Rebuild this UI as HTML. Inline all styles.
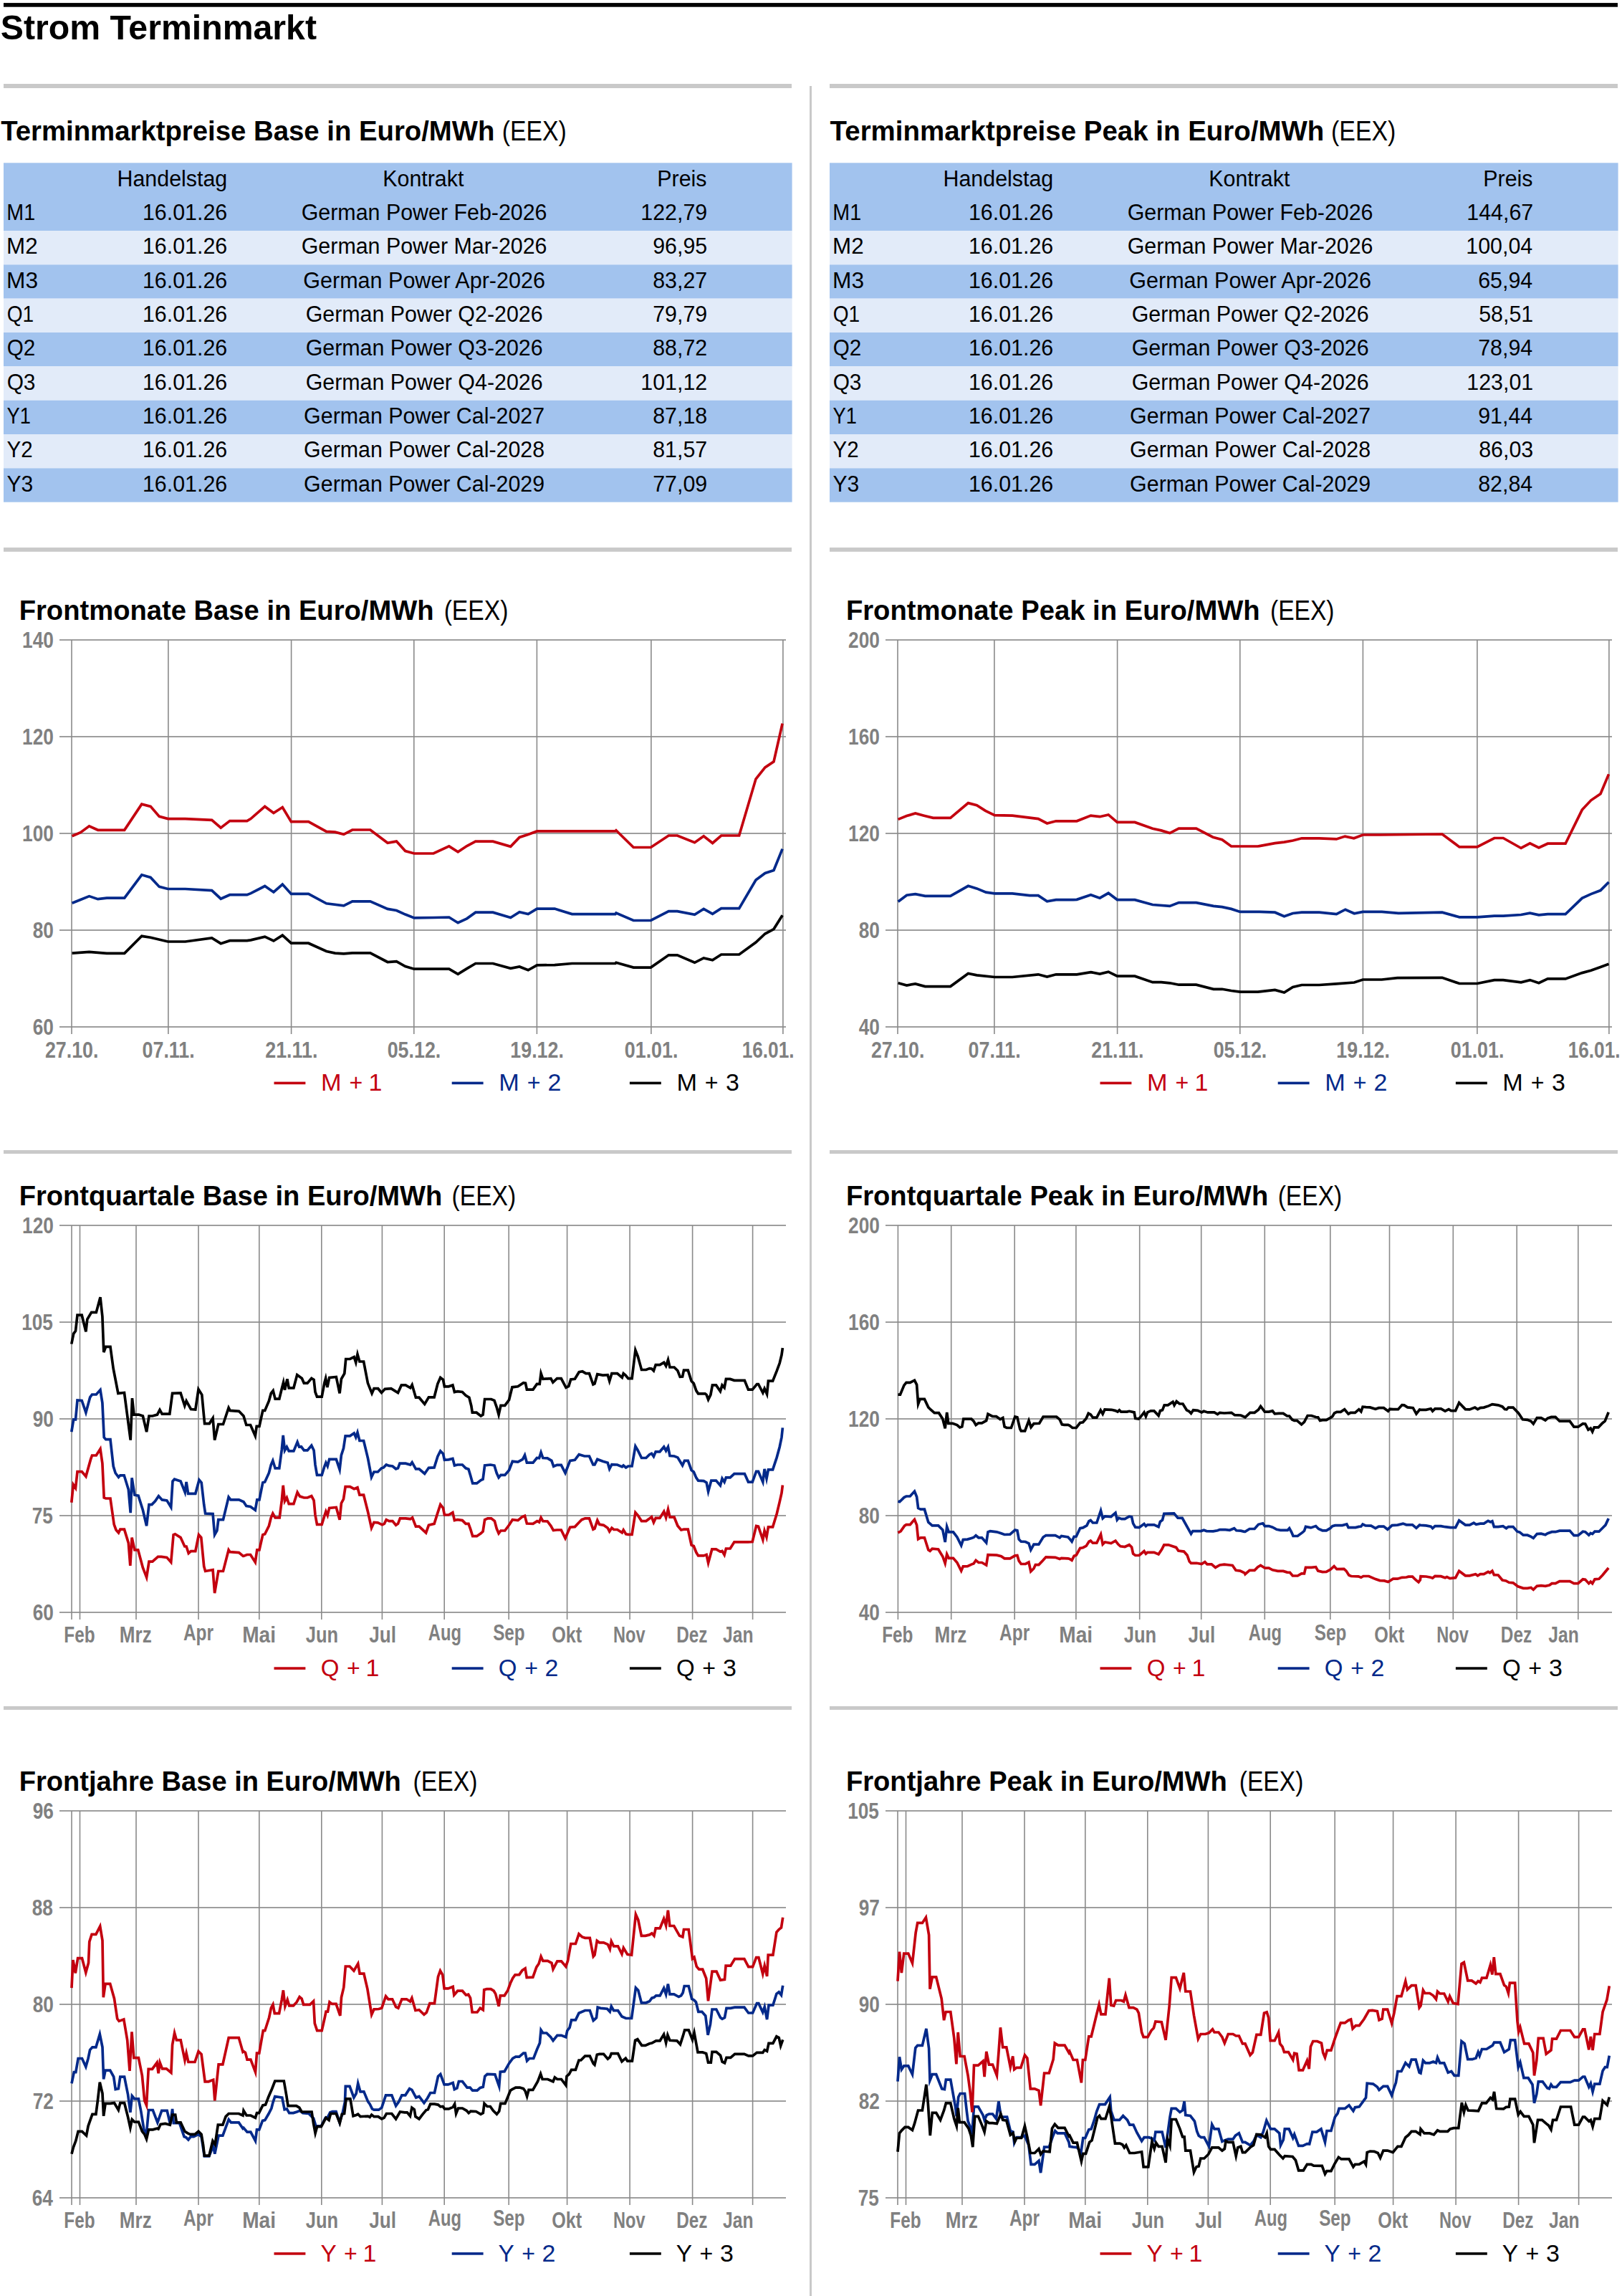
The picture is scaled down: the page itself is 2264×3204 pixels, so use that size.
<!DOCTYPE html>
<html><head><meta charset="utf-8"><title>Strom Terminmarkt</title>
<style>html,body{margin:0;padding:0;background:#fff;overflow:hidden;width:2264px;height:3204px;} svg{display:block;} text{font-family:"Liberation Sans",Arial,sans-serif;white-space:pre;}</style>
</head><body>
<svg width="2264" height="3204" viewBox="0 0 2264 3204">
<rect x="0" y="0" width="2264" height="3204" fill="#fff"/>
<rect x="5.00" y="4.10" width="2253.00" height="5.60" fill="#000"/>
<rect x="5.00" y="117.00" width="1100.00" height="6.00" fill="#c9c9c9"/>
<rect x="1158.00" y="117.00" width="1100.00" height="6.00" fill="#c9c9c9"/>
<rect x="5.00" y="764.10" width="1100.00" height="5.80" fill="#c9c9c9"/>
<rect x="1158.00" y="764.10" width="1100.00" height="5.80" fill="#c9c9c9"/>
<rect x="5.00" y="1605.00" width="1100.00" height="5.00" fill="#c9c9c9"/>
<rect x="1158.00" y="1605.00" width="1100.00" height="5.00" fill="#c9c9c9"/>
<rect x="5.00" y="2381.00" width="1100.00" height="5.00" fill="#c9c9c9"/>
<rect x="1158.00" y="2381.00" width="1100.00" height="5.00" fill="#c9c9c9"/>
<rect x="1130.00" y="120.00" width="3.00" height="3084.00" fill="#c9c9c9"/>
<rect x="5.00" y="227.30" width="1100.60" height="94.68" fill="#a2c3ee"/>
<rect x="5.00" y="321.98" width="1100.60" height="47.34" fill="#e2ebf9"/>
<rect x="5.00" y="369.32" width="1100.60" height="47.34" fill="#a2c3ee"/>
<rect x="5.00" y="416.66" width="1100.60" height="47.34" fill="#e2ebf9"/>
<rect x="5.00" y="464.00" width="1100.60" height="47.34" fill="#a2c3ee"/>
<rect x="5.00" y="511.34" width="1100.60" height="47.34" fill="#e2ebf9"/>
<rect x="5.00" y="558.68" width="1100.60" height="47.34" fill="#a2c3ee"/>
<rect x="5.00" y="606.02" width="1100.60" height="47.34" fill="#e2ebf9"/>
<rect x="5.00" y="653.36" width="1100.60" height="47.34" fill="#a2c3ee"/>
<rect x="1158.00" y="227.30" width="1100.60" height="94.68" fill="#a2c3ee"/>
<rect x="1158.00" y="321.98" width="1100.60" height="47.34" fill="#e2ebf9"/>
<rect x="1158.00" y="369.32" width="1100.60" height="47.34" fill="#a2c3ee"/>
<rect x="1158.00" y="416.66" width="1100.60" height="47.34" fill="#e2ebf9"/>
<rect x="1158.00" y="464.00" width="1100.60" height="47.34" fill="#a2c3ee"/>
<rect x="1158.00" y="511.34" width="1100.60" height="47.34" fill="#e2ebf9"/>
<rect x="1158.00" y="558.68" width="1100.60" height="47.34" fill="#a2c3ee"/>
<rect x="1158.00" y="606.02" width="1100.60" height="47.34" fill="#e2ebf9"/>
<rect x="1158.00" y="653.36" width="1100.60" height="47.34" fill="#a2c3ee"/>
<line x1="83.00" y1="893.00" x2="1097.00" y2="893.00" stroke="#7e7e7e" stroke-width="1.6"/>
<line x1="83.00" y1="1028.00" x2="1097.00" y2="1028.00" stroke="#7e7e7e" stroke-width="1.6"/>
<line x1="83.00" y1="1163.00" x2="1097.00" y2="1163.00" stroke="#7e7e7e" stroke-width="1.6"/>
<line x1="83.00" y1="1298.00" x2="1097.00" y2="1298.00" stroke="#7e7e7e" stroke-width="1.6"/>
<line x1="83.00" y1="1433.00" x2="1097.00" y2="1433.00" stroke="#7e7e7e" stroke-width="1.6"/>
<line x1="100.00" y1="893.00" x2="100.00" y2="1443.00" stroke="#8a8a8a" stroke-width="1.6"/>
<line x1="234.90" y1="893.00" x2="234.90" y2="1443.00" stroke="#8a8a8a" stroke-width="1.6"/>
<line x1="406.60" y1="893.00" x2="406.60" y2="1443.00" stroke="#8a8a8a" stroke-width="1.6"/>
<line x1="577.80" y1="893.00" x2="577.80" y2="1443.00" stroke="#8a8a8a" stroke-width="1.6"/>
<line x1="749.40" y1="893.00" x2="749.40" y2="1443.00" stroke="#8a8a8a" stroke-width="1.6"/>
<line x1="908.90" y1="893.00" x2="908.90" y2="1443.00" stroke="#8a8a8a" stroke-width="1.6"/>
<line x1="1092.90" y1="893.00" x2="1092.90" y2="1443.00" stroke="#8a8a8a" stroke-width="1.6"/>
<rect x="382.50" y="1509.60" width="43.90" height="3.60" fill="#c3000f"/>
<rect x="630.70" y="1509.60" width="43.90" height="3.60" fill="#03298a"/>
<rect x="878.90" y="1509.60" width="43.90" height="3.60" fill="#000000"/>
<line x1="1236.00" y1="893.00" x2="2250.00" y2="893.00" stroke="#7e7e7e" stroke-width="1.6"/>
<line x1="1236.00" y1="1028.00" x2="2250.00" y2="1028.00" stroke="#7e7e7e" stroke-width="1.6"/>
<line x1="1236.00" y1="1163.00" x2="2250.00" y2="1163.00" stroke="#7e7e7e" stroke-width="1.6"/>
<line x1="1236.00" y1="1298.00" x2="2250.00" y2="1298.00" stroke="#7e7e7e" stroke-width="1.6"/>
<line x1="1236.00" y1="1433.00" x2="2250.00" y2="1433.00" stroke="#7e7e7e" stroke-width="1.6"/>
<line x1="1253.00" y1="893.00" x2="1253.00" y2="1443.00" stroke="#8a8a8a" stroke-width="1.6"/>
<line x1="1387.90" y1="893.00" x2="1387.90" y2="1443.00" stroke="#8a8a8a" stroke-width="1.6"/>
<line x1="1559.60" y1="893.00" x2="1559.60" y2="1443.00" stroke="#8a8a8a" stroke-width="1.6"/>
<line x1="1730.80" y1="893.00" x2="1730.80" y2="1443.00" stroke="#8a8a8a" stroke-width="1.6"/>
<line x1="1902.40" y1="893.00" x2="1902.40" y2="1443.00" stroke="#8a8a8a" stroke-width="1.6"/>
<line x1="2061.90" y1="893.00" x2="2061.90" y2="1443.00" stroke="#8a8a8a" stroke-width="1.6"/>
<line x1="2245.90" y1="893.00" x2="2245.90" y2="1443.00" stroke="#8a8a8a" stroke-width="1.6"/>
<rect x="1535.50" y="1509.60" width="43.90" height="3.60" fill="#c3000f"/>
<rect x="1783.70" y="1509.60" width="43.90" height="3.60" fill="#03298a"/>
<rect x="2031.90" y="1509.60" width="43.90" height="3.60" fill="#000000"/>
<line x1="83.00" y1="1710.00" x2="1097.00" y2="1710.00" stroke="#7e7e7e" stroke-width="1.6"/>
<line x1="83.00" y1="1845.00" x2="1097.00" y2="1845.00" stroke="#7e7e7e" stroke-width="1.6"/>
<line x1="83.00" y1="1980.00" x2="1097.00" y2="1980.00" stroke="#7e7e7e" stroke-width="1.6"/>
<line x1="83.00" y1="2115.00" x2="1097.00" y2="2115.00" stroke="#7e7e7e" stroke-width="1.6"/>
<line x1="83.00" y1="2250.00" x2="1097.00" y2="2250.00" stroke="#7e7e7e" stroke-width="1.6"/>
<line x1="100.00" y1="1710.00" x2="100.00" y2="2260.00" stroke="#8a8a8a" stroke-width="1.6"/>
<line x1="111.50" y1="1710.00" x2="111.50" y2="2260.00" stroke="#8a8a8a" stroke-width="1.6"/>
<line x1="190.00" y1="1710.00" x2="190.00" y2="2260.00" stroke="#8a8a8a" stroke-width="1.6"/>
<line x1="277.00" y1="1710.00" x2="277.00" y2="2260.00" stroke="#8a8a8a" stroke-width="1.6"/>
<line x1="361.80" y1="1710.00" x2="361.80" y2="2260.00" stroke="#8a8a8a" stroke-width="1.6"/>
<line x1="448.80" y1="1710.00" x2="448.80" y2="2260.00" stroke="#8a8a8a" stroke-width="1.6"/>
<line x1="533.40" y1="1710.00" x2="533.40" y2="2260.00" stroke="#8a8a8a" stroke-width="1.6"/>
<line x1="620.20" y1="1710.00" x2="620.20" y2="2260.00" stroke="#8a8a8a" stroke-width="1.6"/>
<line x1="710.20" y1="1710.00" x2="710.20" y2="2260.00" stroke="#8a8a8a" stroke-width="1.6"/>
<line x1="791.60" y1="1710.00" x2="791.60" y2="2260.00" stroke="#8a8a8a" stroke-width="1.6"/>
<line x1="879.10" y1="1710.00" x2="879.10" y2="2260.00" stroke="#8a8a8a" stroke-width="1.6"/>
<line x1="966.60" y1="1710.00" x2="966.60" y2="2260.00" stroke="#8a8a8a" stroke-width="1.6"/>
<line x1="1050.60" y1="1710.00" x2="1050.60" y2="2260.00" stroke="#8a8a8a" stroke-width="1.6"/>
<rect x="382.50" y="2326.30" width="43.90" height="3.60" fill="#c3000f"/>
<rect x="630.70" y="2326.30" width="43.90" height="3.60" fill="#03298a"/>
<rect x="878.90" y="2326.30" width="43.90" height="3.60" fill="#000000"/>
<line x1="1236.00" y1="1710.00" x2="2250.00" y2="1710.00" stroke="#7e7e7e" stroke-width="1.6"/>
<line x1="1236.00" y1="1845.00" x2="2250.00" y2="1845.00" stroke="#7e7e7e" stroke-width="1.6"/>
<line x1="1236.00" y1="1980.00" x2="2250.00" y2="1980.00" stroke="#7e7e7e" stroke-width="1.6"/>
<line x1="1236.00" y1="2115.00" x2="2250.00" y2="2115.00" stroke="#7e7e7e" stroke-width="1.6"/>
<line x1="1236.00" y1="2250.00" x2="2250.00" y2="2250.00" stroke="#7e7e7e" stroke-width="1.6"/>
<line x1="1253.40" y1="1710.00" x2="1253.40" y2="2260.00" stroke="#8a8a8a" stroke-width="1.6"/>
<line x1="1327.70" y1="1710.00" x2="1327.70" y2="2260.00" stroke="#8a8a8a" stroke-width="1.6"/>
<line x1="1416.20" y1="1710.00" x2="1416.20" y2="2260.00" stroke="#8a8a8a" stroke-width="1.6"/>
<line x1="1501.90" y1="1710.00" x2="1501.90" y2="2260.00" stroke="#8a8a8a" stroke-width="1.6"/>
<line x1="1590.70" y1="1710.00" x2="1590.70" y2="2260.00" stroke="#8a8a8a" stroke-width="1.6"/>
<line x1="1676.70" y1="1710.00" x2="1676.70" y2="2260.00" stroke="#8a8a8a" stroke-width="1.6"/>
<line x1="1765.30" y1="1710.00" x2="1765.30" y2="2260.00" stroke="#8a8a8a" stroke-width="1.6"/>
<line x1="1856.80" y1="1710.00" x2="1856.80" y2="2260.00" stroke="#8a8a8a" stroke-width="1.6"/>
<line x1="1939.50" y1="1710.00" x2="1939.50" y2="2260.00" stroke="#8a8a8a" stroke-width="1.6"/>
<line x1="2028.30" y1="1710.00" x2="2028.30" y2="2260.00" stroke="#8a8a8a" stroke-width="1.6"/>
<line x1="2117.20" y1="1710.00" x2="2117.20" y2="2260.00" stroke="#8a8a8a" stroke-width="1.6"/>
<line x1="2202.80" y1="1710.00" x2="2202.80" y2="2260.00" stroke="#8a8a8a" stroke-width="1.6"/>
<rect x="1535.50" y="2326.30" width="43.90" height="3.60" fill="#c3000f"/>
<rect x="1783.70" y="2326.30" width="43.90" height="3.60" fill="#03298a"/>
<rect x="2031.90" y="2326.30" width="43.90" height="3.60" fill="#000000"/>
<line x1="83.00" y1="2527.00" x2="1097.00" y2="2527.00" stroke="#7e7e7e" stroke-width="1.6"/>
<line x1="83.00" y1="2662.00" x2="1097.00" y2="2662.00" stroke="#7e7e7e" stroke-width="1.6"/>
<line x1="83.00" y1="2797.00" x2="1097.00" y2="2797.00" stroke="#7e7e7e" stroke-width="1.6"/>
<line x1="83.00" y1="2932.00" x2="1097.00" y2="2932.00" stroke="#7e7e7e" stroke-width="1.6"/>
<line x1="83.00" y1="3067.00" x2="1097.00" y2="3067.00" stroke="#7e7e7e" stroke-width="1.6"/>
<line x1="100.00" y1="2527.00" x2="100.00" y2="3077.00" stroke="#8a8a8a" stroke-width="1.6"/>
<line x1="111.50" y1="2527.00" x2="111.50" y2="3077.00" stroke="#8a8a8a" stroke-width="1.6"/>
<line x1="190.00" y1="2527.00" x2="190.00" y2="3077.00" stroke="#8a8a8a" stroke-width="1.6"/>
<line x1="277.00" y1="2527.00" x2="277.00" y2="3077.00" stroke="#8a8a8a" stroke-width="1.6"/>
<line x1="361.80" y1="2527.00" x2="361.80" y2="3077.00" stroke="#8a8a8a" stroke-width="1.6"/>
<line x1="448.80" y1="2527.00" x2="448.80" y2="3077.00" stroke="#8a8a8a" stroke-width="1.6"/>
<line x1="533.40" y1="2527.00" x2="533.40" y2="3077.00" stroke="#8a8a8a" stroke-width="1.6"/>
<line x1="620.20" y1="2527.00" x2="620.20" y2="3077.00" stroke="#8a8a8a" stroke-width="1.6"/>
<line x1="710.20" y1="2527.00" x2="710.20" y2="3077.00" stroke="#8a8a8a" stroke-width="1.6"/>
<line x1="791.60" y1="2527.00" x2="791.60" y2="3077.00" stroke="#8a8a8a" stroke-width="1.6"/>
<line x1="879.10" y1="2527.00" x2="879.10" y2="3077.00" stroke="#8a8a8a" stroke-width="1.6"/>
<line x1="966.60" y1="2527.00" x2="966.60" y2="3077.00" stroke="#8a8a8a" stroke-width="1.6"/>
<line x1="1050.60" y1="2527.00" x2="1050.60" y2="3077.00" stroke="#8a8a8a" stroke-width="1.6"/>
<rect x="382.50" y="3143.10" width="43.90" height="3.60" fill="#c3000f"/>
<rect x="630.70" y="3143.10" width="43.90" height="3.60" fill="#03298a"/>
<rect x="878.90" y="3143.10" width="43.90" height="3.60" fill="#000000"/>
<line x1="1236.00" y1="2527.00" x2="2250.00" y2="2527.00" stroke="#7e7e7e" stroke-width="1.6"/>
<line x1="1236.00" y1="2662.00" x2="2250.00" y2="2662.00" stroke="#7e7e7e" stroke-width="1.6"/>
<line x1="1236.00" y1="2797.00" x2="2250.00" y2="2797.00" stroke="#7e7e7e" stroke-width="1.6"/>
<line x1="1236.00" y1="2932.00" x2="2250.00" y2="2932.00" stroke="#7e7e7e" stroke-width="1.6"/>
<line x1="1236.00" y1="3067.00" x2="2250.00" y2="3067.00" stroke="#7e7e7e" stroke-width="1.6"/>
<line x1="1253.00" y1="2527.00" x2="1253.00" y2="3077.00" stroke="#8a8a8a" stroke-width="1.6"/>
<line x1="1264.50" y1="2527.00" x2="1264.50" y2="3077.00" stroke="#8a8a8a" stroke-width="1.6"/>
<line x1="1343.00" y1="2527.00" x2="1343.00" y2="3077.00" stroke="#8a8a8a" stroke-width="1.6"/>
<line x1="1430.00" y1="2527.00" x2="1430.00" y2="3077.00" stroke="#8a8a8a" stroke-width="1.6"/>
<line x1="1514.80" y1="2527.00" x2="1514.80" y2="3077.00" stroke="#8a8a8a" stroke-width="1.6"/>
<line x1="1601.80" y1="2527.00" x2="1601.80" y2="3077.00" stroke="#8a8a8a" stroke-width="1.6"/>
<line x1="1686.40" y1="2527.00" x2="1686.40" y2="3077.00" stroke="#8a8a8a" stroke-width="1.6"/>
<line x1="1773.20" y1="2527.00" x2="1773.20" y2="3077.00" stroke="#8a8a8a" stroke-width="1.6"/>
<line x1="1863.20" y1="2527.00" x2="1863.20" y2="3077.00" stroke="#8a8a8a" stroke-width="1.6"/>
<line x1="1944.60" y1="2527.00" x2="1944.60" y2="3077.00" stroke="#8a8a8a" stroke-width="1.6"/>
<line x1="2032.10" y1="2527.00" x2="2032.10" y2="3077.00" stroke="#8a8a8a" stroke-width="1.6"/>
<line x1="2119.60" y1="2527.00" x2="2119.60" y2="3077.00" stroke="#8a8a8a" stroke-width="1.6"/>
<line x1="2203.60" y1="2527.00" x2="2203.60" y2="3077.00" stroke="#8a8a8a" stroke-width="1.6"/>
<rect x="1535.50" y="3143.10" width="43.90" height="3.60" fill="#c3000f"/>
<rect x="1783.70" y="3143.10" width="43.90" height="3.60" fill="#03298a"/>
<rect x="2031.90" y="3143.10" width="43.90" height="3.60" fill="#000000"/>
<polyline points="100.6,1260.3 112.4,1255.5 124.5,1250.6 136.6,1254.7 149.0,1253.1 173.7,1253.1 197.8,1220.8 210.2,1224.5 222.3,1237.4 234.4,1240.5 258.6,1240.5 295.7,1242.6 308.2,1254.2 320.7,1248.7 344.8,1248.7 350.0,1246.6 369.7,1236.5 381.9,1245.0 394.3,1234.0 406.4,1247.4 430.6,1247.4 455.6,1260.8 479.8,1263.9 491.8,1257.9 516.8,1257.9 541.0,1268.4 553.4,1270.5 565.7,1276.1 578.1,1280.9 605.0,1280.5 626.8,1280.0 639.2,1287.7 651.7,1281.8 663.8,1273.2 688.0,1273.2 712.7,1280.5 725.1,1272.7 737.2,1275.6 749.6,1268.1 774.2,1268.1 798.4,1275.6 858.9,1275.6 860.0,1274.0 884.2,1284.5 908.4,1284.5 933.3,1271.6 945.4,1271.6 969.6,1276.4 982.2,1268.4 994.6,1275.3 1006.7,1267.6 1031.7,1267.6 1055.0,1228.1 1067.9,1218.4 1080.0,1214.4 1092.1,1184.6" fill="none" stroke="#03298a" stroke-width="3.7" stroke-linejoin="miter" stroke-miterlimit="5"/>
<polyline points="100.6,1330.1 124.5,1328.3 149.0,1330.4 173.7,1330.4 197.8,1306.3 210.2,1308.2 234.4,1314.0 258.6,1314.0 295.7,1309.0 308.2,1316.7 320.7,1312.7 344.8,1312.7 350.0,1311.9 369.7,1307.1 381.9,1313.0 394.3,1305.1 406.4,1316.2 430.6,1316.2 455.6,1327.5 467.7,1330.1 479.8,1330.8 491.8,1329.9 516.8,1329.9 541.0,1342.5 553.4,1341.7 565.7,1348.5 578.1,1352.2 605.0,1352.2 626.8,1352.2 639.2,1359.4 651.7,1351.7 663.8,1344.5 688.0,1344.5 712.7,1351.4 725.1,1349.0 737.2,1353.8 749.6,1346.9 774.2,1346.6 798.4,1344.5 858.9,1344.5 860.0,1343.3 884.2,1350.1 908.4,1350.1 933.3,1332.8 945.4,1332.8 969.6,1343.3 982.2,1336.9 994.6,1339.8 1006.7,1332.0 1031.7,1332.0 1055.0,1315.1 1067.9,1303.0 1080.0,1296.6 1092.1,1277.2" fill="none" stroke="#000000" stroke-width="3.7" stroke-linejoin="miter" stroke-miterlimit="5"/>
<polyline points="100.6,1166.8 112.4,1161.7 124.5,1152.8 136.6,1158.3 173.7,1158.3 197.8,1122.2 210.2,1125.4 222.3,1139.4 234.4,1142.6 258.6,1142.6 295.7,1144.3 308.2,1155.1 320.7,1145.6 344.8,1145.6 350.0,1142.6 369.7,1125.4 381.9,1134.6 394.3,1126.5 406.4,1146.7 430.6,1146.7 455.6,1160.4 467.7,1161.2 479.8,1164.4 491.8,1158.0 516.8,1158.0 541.0,1176.2 553.4,1174.1 565.7,1187.5 578.1,1191.0 602.3,1191.0 605.0,1191.0 626.8,1180.9 639.2,1188.9 651.7,1180.5 663.8,1174.1 688.0,1174.1 712.7,1181.3 725.1,1168.4 737.2,1164.4 749.6,1159.9 774.2,1159.9 858.9,1159.9 860.0,1158.8 884.2,1182.5 908.4,1182.5 933.3,1166.0 945.4,1166.0 969.6,1175.7 982.2,1166.8 994.6,1176.5 1006.7,1166.0 1031.7,1166.0 1055.0,1087.0 1067.9,1070.9 1080.0,1062.9 1092.1,1009.7" fill="none" stroke="#c3000f" stroke-width="3.7" stroke-linejoin="miter" stroke-miterlimit="5"/>
<polyline points="1253.6,1258.3 1265.6,1249.2 1277.7,1247.6 1291.3,1250.3 1326.6,1250.3 1351.4,1236.3 1363.4,1239.9 1376.2,1245.2 1388.3,1246.8 1413.1,1246.8 1437.2,1249.6 1449.2,1249.6 1461.5,1257.7 1474.0,1255.6 1498.1,1255.6 1503.0,1255.3 1522.6,1248.8 1535.1,1253.2 1547.1,1246.3 1559.4,1255.6 1584.0,1255.6 1608.8,1262.5 1632.8,1264.4 1645.4,1259.6 1669.7,1259.6 1693.8,1264.4 1705.8,1265.7 1718.6,1268.4 1731.0,1272.4 1758.0,1272.4 1779.6,1273.2 1792.5,1278.8 1804.5,1274.5 1817.0,1273.2 1841.4,1273.2 1865.4,1275.6 1877.9,1269.2 1890.3,1274.8 1902.3,1272.4 1928.7,1272.4 1952.0,1274.3 2013.0,1273.2 2037.0,1279.8 2061.8,1279.8 2085.8,1278.2 2098.2,1278.2 2123.1,1276.5 2135.5,1274.1 2147.9,1276.9 2160.3,1275.7 2185.1,1275.7 2208.3,1253.4 2220.7,1247.6 2234.0,1242.6 2245.5,1231.0" fill="none" stroke="#03298a" stroke-width="3.7" stroke-linejoin="miter" stroke-miterlimit="5"/>
<polyline points="1253.6,1371.8 1265.6,1375.0 1277.7,1372.9 1291.3,1376.6 1326.6,1376.6 1351.4,1358.5 1363.4,1360.9 1388.3,1363.5 1413.1,1363.5 1449.2,1359.8 1461.5,1363.0 1474.0,1359.8 1498.1,1359.8 1503.0,1359.8 1522.6,1356.6 1535.1,1359.0 1547.1,1356.2 1559.4,1362.2 1584.0,1362.2 1608.8,1370.7 1620.8,1370.7 1632.8,1371.8 1645.4,1374.2 1669.7,1374.2 1693.8,1380.3 1705.8,1380.3 1718.6,1382.5 1731.0,1384.1 1755.5,1384.1 1758.0,1383.8 1779.6,1381.4 1792.5,1385.1 1804.5,1377.4 1817.0,1374.5 1841.4,1374.5 1865.4,1372.9 1890.3,1371.0 1902.3,1367.0 1928.7,1367.0 1950.4,1364.6 2013.0,1364.3 2037.0,1372.5 2061.8,1372.5 2085.8,1367.6 2098.2,1367.6 2123.1,1370.9 2135.5,1367.6 2147.9,1371.7 2160.3,1365.9 2185.1,1365.9 2208.3,1357.6 2220.7,1354.3 2234.0,1349.4 2245.5,1345.2" fill="none" stroke="#000000" stroke-width="3.7" stroke-linejoin="miter" stroke-miterlimit="5"/>
<polyline points="1253.6,1143.4 1265.6,1138.6 1277.7,1135.0 1289.7,1138.2 1302.5,1141.4 1326.6,1141.4 1351.4,1120.6 1363.4,1123.6 1375.4,1131.3 1388.3,1137.7 1413.1,1138.1 1449.2,1142.6 1461.5,1149.0 1474.0,1145.8 1498.1,1145.8 1503.0,1145.8 1522.6,1138.1 1535.1,1139.7 1547.1,1136.9 1559.4,1147.4 1584.0,1147.4 1608.8,1156.2 1620.8,1158.9 1632.8,1162.6 1645.4,1156.2 1669.7,1156.2 1693.0,1168.2 1705.8,1171.7 1718.6,1181.0 1755.5,1181.0 1758.0,1180.6 1779.6,1176.7 1792.5,1175.1 1804.5,1173.0 1817.0,1169.8 1841.4,1169.8 1865.4,1170.9 1877.4,1167.1 1889.8,1169.8 1902.3,1165.0 1926.3,1165.0 2013.0,1164.0 2037.0,1181.9 2061.8,1181.9 2085.8,1169.5 2098.2,1169.5 2123.1,1183.5 2135.5,1176.9 2147.9,1183.0 2160.3,1177.2 2185.1,1177.2 2208.3,1130.1 2220.7,1116.8 2234.0,1107.7 2245.5,1080.4" fill="none" stroke="#c3000f" stroke-width="3.7" stroke-linejoin="miter" stroke-miterlimit="5"/>
<polyline points="99.8,1998.1 102.7,1980.8 105.5,1980.8 108.0,1954.0 114.2,1954.4 119.9,1971.2 125.7,1949.8 128.5,1946.0 134.3,1946.0 140.0,1939.6 142.9,1957.8 145.2,2005.7 147.7,2008.6 154.0,2008.6 158.2,2046.0 161.1,2055.5 165.5,2061.3 167.8,2058.8 173.2,2058.8 179.3,2078.5 182.2,2111.1 184.1,2062.2 187.9,2086.2 193.1,2087.1 199.4,2107.3 204.6,2129.3 208.0,2099.6 211.9,2099.6 216.6,2094.8 221.4,2087.7 226.2,2092.9 232.9,2093.9 238.7,2103.4 241.0,2067.0 243.5,2064.2 252.1,2067.0 258.2,2082.4 260.1,2068.0 262.6,2084.3 272.8,2084.3 278.0,2065.1 281.2,2068.9 284.7,2099.6 286.6,2112.0 297.1,2112.6 299.6,2141.7 302.9,2136.0 304.8,2120.7 311.5,2120.7 319.1,2089.1 322.0,2092.9 333.5,2092.9 340.0,2095.8 343.8,2101.5 349.6,2102.5 356.3,2107.3 358.8,2092.9 362.0,2092.9 366.8,2068.9 369.7,2068.0 375.4,2055.5 378.3,2044.0 380.8,2038.3 384.1,2048.8 389.8,2048.8 393.3,2023.0 395.2,2002.9 397.5,2023.9 400.3,2019.1 403.2,2024.9 409.9,2024.9 415.1,2012.4 417.6,2019.1 420.5,2018.8 424.3,2023.9 429.1,2023.9 434.8,2017.2 438.1,2023.9 440.0,2044.0 442.5,2058.4 449.2,2058.4 453.0,2046.0 454.9,2041.2 457.2,2046.0 459.7,2036.4 469.3,2036.4 474.1,2050.7 476.4,2030.6 479.5,2021.1 482.1,2003.8 488.5,2003.8 494.2,2000.0 496.7,2005.7 499.0,1999.0 501.9,2010.5 507.6,2010.5 513.4,2034.5 518.5,2061.3 522.0,2054.0 527.4,2054.0 532.5,2048.8 535.4,2047.9 539.2,2044.0 543.1,2045.4 547.9,2046.0 552.6,2049.8 555.5,2048.8 558.0,2042.1 566.1,2042.1 572.8,2044.0 575.2,2040.6 580.4,2049.8 585.0,2049.8 592.7,2056.5 598.4,2048.3 606.1,2047.9 610.9,2032.5 614.7,2024.9 618.5,2028.7 620.4,2037.3 626.2,2036.8 631.9,2035.4 634.4,2045.0 638.6,2044.0 645.3,2044.0 650.1,2048.8 654.0,2050.2 656.8,2059.4 659.7,2069.9 665.5,2069.9 671.2,2065.5 674.1,2064.2 676.6,2045.0 684.6,2044.0 690.0,2045.0 693.2,2055.5 696.1,2061.9 699.0,2058.4 704.7,2058.4 710.5,2051.7 715.3,2039.3 722.9,2040.2 729.6,2036.4 732.5,2030.6 735.4,2041.2 744.0,2041.2 749.4,2034.5 752.6,2034.8 755.1,2026.8 757.8,2034.5 764.1,2034.8 769.9,2038.3 772.7,2046.3 777.5,2044.4 783.3,2044.4 789.0,2055.5 795.7,2038.3 802.4,2037.3 808.2,2029.7 815.8,2032.0 822.5,2032.0 827.9,2044.0 830.0,2044.0 833.8,2036.4 841.5,2039.3 848.2,2041.2 850.7,2049.8 853.9,2043.7 861.6,2044.0 868.3,2046.9 870.2,2045.0 873.7,2047.9 876.9,2046.0 882.1,2046.0 886.9,2018.2 890.3,2023.9 895.5,2034.5 901.8,2034.5 906.6,2029.7 909.5,2028.3 912.4,2032.5 915.2,2025.8 921.0,2025.8 926.7,2019.1 929.6,2024.5 932.5,2019.1 935.0,2031.6 941.1,2032.0 945.9,2033.9 949.2,2039.3 952.6,2045.0 955.5,2038.3 960.3,2038.3 965.1,2051.7 968.3,2054.0 971.8,2062.2 974.6,2066.1 982.3,2066.6 986.1,2068.9 988.6,2081.4 992.8,2066.1 999.5,2066.1 1005.4,2072.9 1008.0,2063.3 1011.1,2068.1 1013.4,2061.8 1019.2,2061.8 1024.9,2056.6 1039.3,2056.6 1044.5,2068.1 1050.2,2068.1 1055.6,2053.3 1058.5,2053.3 1064.8,2068.1 1067.1,2049.9 1070.0,2063.3 1072.4,2050.8 1078.6,2050.8 1084.3,2033.6 1088.2,2019.2 1091.0,2005.8 1092.4,1992.4" fill="none" stroke="#03298a" stroke-width="3.7" stroke-linejoin="miter" stroke-miterlimit="5"/>
<polyline points="99.8,1875.5 102.7,1861.1 105.5,1857.3 108.0,1835.2 114.2,1835.2 119.9,1858.2 121.8,1841.0 127.6,1831.4 134.3,1831.4 140.0,1810.3 142.9,1837.1 144.8,1887.0 147.7,1879.3 154.0,1879.3 158.2,1909.9 164.9,1944.4 173.5,1943.5 182.2,2009.6 184.5,1951.1 187.0,1974.1 193.7,1974.1 199.4,1976.0 204.6,1998.1 208.0,1976.0 212.8,1976.0 219.5,1974.1 223.0,1967.4 226.2,1973.2 236.8,1973.2 240.6,1944.4 252.1,1944.0 257.8,1961.7 260.1,1955.0 266.5,1966.5 272.8,1967.0 277.0,1938.7 281.8,1946.3 285.6,1986.6 292.3,1986.6 297.1,1978.9 299.6,2009.6 304.8,1987.5 311.5,1987.5 319.1,1964.5 321.1,1968.4 333.5,1969.3 340.0,1976.0 343.8,1988.5 349.6,1988.5 356.3,2003.8 358.2,1990.4 362.0,1990.4 366.8,1968.4 369.7,1968.4 375.4,1955.0 378.3,1944.4 381.2,1940.6 384.1,1952.1 389.8,1952.1 393.6,1936.8 395.6,1929.1 397.5,1939.6 400.9,1924.3 403.2,1936.8 409.9,1936.8 414.7,1918.6 421.4,1923.4 424.3,1930.1 429.1,1930.1 434.8,1923.4 438.1,1925.3 440.0,1942.5 442.5,1949.2 449.2,1949.2 453.0,1929.1 454.6,1923.4 456.9,1935.8 459.7,1922.4 469.3,1921.4 474.1,1944.4 476.4,1924.3 480.8,1916.6 482.7,1896.5 488.5,1896.5 494.2,1893.7 496.7,1901.3 499.0,1889.8 501.9,1900.0 507.6,1900.0 513.4,1930.1 519.1,1944.4 522.0,1937.7 527.7,1937.7 532.5,1943.5 537.3,1938.3 545.9,1937.7 550.7,1940.6 555.5,1943.5 560.3,1932.9 566.1,1932.9 572.8,1936.8 575.2,1932.5 580.4,1950.2 585.0,1950.2 592.7,1959.4 598.4,1949.8 606.1,1949.8 610.9,1931.0 614.7,1922.4 618.5,1925.3 620.4,1934.8 626.2,1934.8 631.9,1932.9 634.4,1942.5 638.6,1941.6 645.3,1942.5 650.1,1947.3 654.9,1950.2 657.8,1961.7 659.3,1971.2 665.1,1971.2 671.2,1976.0 674.1,1974.1 676.6,1952.5 685.6,1952.5 690.0,1954.4 693.2,1963.6 696.1,1974.1 699.0,1961.3 704.7,1961.3 710.5,1953.6 714.9,1935.8 722.9,1934.8 730.6,1929.7 733.5,1930.1 735.4,1939.1 744.0,1939.1 749.4,1931.4 753.2,1931.4 755.1,1916.6 757.8,1924.3 768.9,1923.7 771.8,1929.1 777.5,1923.7 783.3,1923.7 790.0,1936.4 793.8,1934.5 796.7,1924.9 802.4,1924.3 808.2,1914.7 813.0,1913.8 817.8,1916.6 822.5,1916.6 827.9,1932.0 830.0,1931.0 833.8,1917.6 841.5,1919.1 848.2,1918.6 850.7,1927.2 853.9,1916.6 861.6,1916.6 868.3,1922.4 870.2,1916.6 873.1,1919.1 876.9,1923.7 882.1,1923.7 886.9,1884.1 890.3,1892.7 895.5,1911.5 901.8,1911.5 906.6,1909.6 909.5,1909.9 912.4,1912.8 915.2,1904.6 921.0,1904.6 926.7,1901.3 929.6,1906.1 932.5,1897.5 935.0,1908.0 941.1,1908.0 945.9,1912.8 949.2,1921.4 952.6,1921.1 954.5,1912.2 960.3,1912.2 965.1,1927.2 968.3,1930.6 971.8,1940.6 974.6,1944.8 984.2,1944.8 986.1,1946.3 988.6,1953.0 991.9,1946.3 994.4,1932.9 999.5,1932.9 1005.4,1941.6 1008.0,1933.0 1011.1,1936.4 1013.4,1924.4 1019.2,1924.4 1024.9,1926.3 1039.3,1926.3 1044.5,1939.1 1050.2,1939.1 1056.5,1931.5 1058.5,1931.5 1064.8,1943.5 1067.1,1937.8 1070.5,1945.4 1072.4,1927.2 1078.6,1927.2 1084.3,1912.9 1088.2,1902.3 1091.0,1890.8 1092.4,1880.9" fill="none" stroke="#000000" stroke-width="3.7" stroke-linejoin="miter" stroke-miterlimit="5"/>
<polyline points="99.8,2096.7 102.3,2071.8 105.5,2076.6 108.0,2053.6 114.2,2053.6 119.9,2060.3 126.6,2036.4 128.5,2031.0 134.3,2031.0 140.0,2022.0 142.9,2042.1 145.2,2090.0 147.7,2091.0 154.0,2091.0 159.2,2127.4 162.0,2135.0 165.5,2138.9 167.8,2134.1 173.5,2134.1 179.3,2153.2 181.8,2184.8 184.1,2145.6 187.9,2162.8 192.7,2162.8 199.4,2187.7 204.6,2201.1 208.0,2179.1 212.8,2179.1 220.5,2172.4 225.3,2172.4 232.9,2173.4 238.7,2180.1 242.1,2141.7 244.4,2140.8 252.1,2145.6 257.8,2158.0 260.1,2158.0 263.2,2167.6 266.5,2164.7 272.8,2164.7 277.4,2141.7 280.8,2145.6 284.7,2185.8 286.6,2192.5 297.1,2190.6 299.6,2223.2 304.8,2192.5 311.5,2192.5 319.1,2162.8 321.1,2165.7 333.5,2166.6 339.3,2171.4 340.0,2171.4 344.8,2169.5 349.6,2169.5 356.3,2180.1 358.8,2162.8 362.0,2162.8 366.8,2141.7 369.7,2140.8 375.4,2129.3 378.3,2117.8 380.8,2112.0 384.1,2117.8 390.2,2117.8 393.3,2093.9 395.2,2072.8 397.5,2094.8 400.3,2090.0 403.2,2098.6 409.9,2098.6 415.1,2082.4 418.5,2088.1 424.3,2090.0 429.1,2090.0 434.8,2087.7 438.1,2093.9 440.0,2114.0 442.5,2127.4 449.2,2127.4 453.0,2114.9 454.9,2109.2 457.2,2114.5 459.7,2104.4 469.3,2103.4 474.1,2120.7 476.4,2097.7 479.5,2091.9 482.1,2074.7 488.5,2074.7 494.2,2077.6 499.0,2075.7 501.9,2086.2 507.6,2086.2 513.4,2109.2 518.5,2132.2 522.0,2124.5 527.4,2124.9 533.5,2127.8 536.4,2126.4 539.2,2120.7 543.1,2122.6 547.9,2122.6 552.6,2128.3 555.5,2126.4 558.4,2118.8 566.1,2118.8 572.8,2119.7 575.6,2117.8 580.4,2130.2 585.0,2130.2 594.6,2138.9 598.4,2128.3 606.1,2126.4 610.9,2111.1 614.7,2099.6 618.5,2104.4 620.4,2114.0 626.2,2114.0 631.9,2110.7 634.4,2121.6 638.6,2120.7 645.3,2121.6 650.1,2126.4 654.0,2126.4 656.8,2134.1 659.7,2143.7 665.5,2143.7 671.2,2139.8 674.1,2137.0 676.6,2120.7 680.8,2118.8 685.6,2118.8 690.4,2122.6 693.2,2133.1 696.1,2139.8 699.0,2136.0 704.7,2136.0 710.5,2128.3 715.3,2120.7 722.9,2121.6 728.7,2116.8 732.5,2115.3 735.4,2126.0 744.0,2126.4 749.8,2122.6 752.6,2124.1 755.1,2117.8 757.8,2122.6 764.1,2123.0 768.9,2129.3 772.4,2135.6 777.5,2135.0 783.3,2135.0 789.0,2146.5 795.7,2131.2 802.4,2130.6 808.2,2124.5 812.0,2120.7 816.8,2118.8 822.5,2118.8 827.9,2134.1 830.0,2133.1 833.8,2121.6 836.7,2127.4 842.5,2128.3 848.2,2132.2 850.7,2137.0 853.9,2132.2 856.8,2134.5 861.6,2134.5 868.3,2138.9 870.2,2135.0 873.7,2140.8 876.9,2141.4 882.1,2141.4 886.9,2110.7 890.3,2114.5 895.5,2122.6 901.8,2122.6 906.6,2119.1 909.5,2116.8 912.4,2124.5 915.2,2118.4 921.0,2118.4 926.7,2109.2 929.6,2117.8 932.5,2106.3 935.0,2117.2 941.1,2117.2 945.9,2129.3 950.7,2135.0 954.5,2134.1 960.3,2134.1 965.1,2156.1 968.3,2157.5 971.8,2166.3 974.6,2170.9 982.3,2170.9 986.1,2169.5 988.6,2181.0 993.8,2161.9 999.5,2161.9 1005.4,2165.3 1008.0,2164.5 1011.1,2169.7 1013.4,2161.0 1019.2,2161.0 1024.9,2151.8 1044.1,2151.8 1050.2,2151.5 1055.6,2129.4 1058.5,2130.0 1064.8,2148.6 1067.1,2136.1 1070.0,2144.8 1072.4,2130.8 1078.6,2130.8 1084.3,2112.2 1088.2,2095.9 1091.0,2083.4 1092.4,2072.5" fill="none" stroke="#c3000f" stroke-width="3.7" stroke-linejoin="miter" stroke-miterlimit="5"/>
<polyline points="1253.4,2095.0 1255.7,2095.7 1261.9,2089.6 1265.0,2088.0 1270.3,2088.0 1276.5,2081.1 1279.6,2088.8 1281.6,2104.5 1285.0,2106.1 1290.4,2106.1 1295.8,2124.2 1301.2,2128.9 1309.7,2128.9 1315.8,2135.0 1319.2,2152.0 1321.7,2130.4 1324.3,2137.8 1330.5,2137.8 1335.9,2145.0 1341.7,2156.6 1344.3,2148.6 1350.5,2148.1 1355.9,2146.6 1359.0,2145.5 1362.1,2142.7 1365.9,2145.8 1370.5,2145.8 1376.7,2152.8 1379.0,2137.8 1382.1,2136.6 1391.3,2137.8 1397.5,2139.7 1402.1,2141.5 1409.8,2141.2 1416.8,2135.0 1419.9,2135.8 1422.2,2148.1 1425.3,2151.2 1431.4,2151.5 1436.0,2153.8 1438.8,2162.8 1443.0,2155.1 1449.9,2155.1 1456.1,2145.0 1459.9,2142.7 1473.0,2142.7 1479.2,2145.8 1481.5,2143.5 1490.8,2145.0 1493.0,2147.4 1496.1,2151.2 1499.2,2144.3 1502.2,2144.0 1507.6,2132.7 1511.5,2131.9 1516.9,2128.9 1520.0,2122.7 1522.3,2121.5 1525.4,2125.0 1530.8,2125.0 1536.5,2108.1 1539.2,2118.8 1542.3,2115.8 1550.8,2116.5 1557.0,2111.1 1559.3,2120.9 1561.6,2118.1 1565.4,2119.6 1570.1,2119.6 1576.2,2116.2 1579.6,2116.8 1581.6,2125.8 1584.7,2131.2 1590.1,2131.6 1597.0,2126.6 1599.4,2129.6 1601.7,2127.8 1610.9,2127.8 1617.1,2130.7 1619.4,2123.5 1622.5,2121.2 1624.8,2112.2 1638.7,2111.9 1644.0,2118.1 1650.2,2118.4 1662.5,2140.4 1664.9,2136.6 1676.4,2136.6 1680.3,2135.3 1684.1,2136.6 1693.4,2136.9 1699.5,2135.8 1702.6,2134.6 1710.3,2134.7 1716.5,2135.3 1722.7,2132.7 1725.7,2135.8 1731.9,2136.1 1736.5,2137.3 1738.0,2137.3 1744.2,2133.5 1751.1,2133.5 1756.5,2127.3 1762.7,2125.8 1765.4,2129.6 1771.1,2129.6 1776.2,2131.2 1781.9,2134.3 1787.3,2135.3 1797.3,2135.3 1799.7,2132.7 1802.7,2138.1 1805.0,2143.5 1811.2,2143.5 1818.1,2138.4 1820.5,2136.3 1822.5,2130.4 1829.7,2131.9 1836.6,2129.6 1840.5,2133.5 1845.9,2135.8 1851.3,2135.8 1856.7,2132.7 1859.8,2129.6 1863.6,2128.6 1873.6,2128.6 1879.8,2127.0 1882.1,2131.6 1892.1,2131.6 1896.8,2130.4 1899.8,2130.1 1902.1,2127.0 1906.0,2128.9 1913.7,2129.2 1919.9,2132.7 1924.5,2130.1 1931.4,2130.1 1936.8,2134.3 1943.0,2128.6 1950.7,2128.1 1958.4,2126.1 1963.0,2127.8 1971.5,2127.8 1976.9,2132.3 1981.5,2128.1 1983.0,2128.4 1990.5,2128.9 1997.2,2130.1 1999.6,2132.7 2003.0,2129.7 2011.3,2129.7 2017.1,2130.7 2024.6,2131.7 2031.6,2131.7 2036.6,2121.8 2045.4,2128.1 2051.3,2128.1 2057.1,2125.1 2060.4,2127.2 2066.2,2126.1 2071.2,2126.1 2077.1,2122.3 2080.4,2123.9 2082.9,2122.8 2085.4,2130.6 2091.2,2130.6 2097.9,2129.7 2102.5,2132.7 2105.4,2130.6 2112.0,2130.6 2117.8,2137.2 2121.2,2138.1 2126.2,2142.2 2132.0,2142.2 2137.0,2144.4 2140.3,2146.4 2145.3,2140.6 2151.1,2140.1 2157.0,2141.7 2160.3,2139.7 2166.1,2137.7 2171.1,2137.7 2176.9,2136.1 2191.1,2136.1 2196.9,2142.7 2202.7,2142.7 2209.4,2137.2 2212.7,2137.7 2217.7,2142.2 2220.2,2139.4 2222.7,2140.6 2226.0,2137.2 2231.9,2137.2 2236.9,2132.2 2241.0,2128.1 2245.2,2118.9" fill="none" stroke="#03298a" stroke-width="3.7" stroke-linejoin="miter" stroke-miterlimit="5"/>
<polyline points="1253.4,1946.2 1256.5,1946.2 1261.9,1933.1 1265.0,1929.3 1270.3,1929.3 1276.5,1926.2 1279.6,1932.3 1281.6,1959.3 1284.2,1952.4 1290.4,1952.4 1295.8,1963.9 1298.9,1967.0 1304.3,1971.7 1310.4,1971.7 1315.8,1980.1 1319.2,1993.2 1321.7,1970.9 1323.8,1986.3 1329.7,1986.3 1335.9,1988.6 1339.7,1992.0 1342.8,1990.9 1344.8,1980.1 1355.9,1980.1 1359.0,1983.2 1362.1,1988.6 1365.9,1985.8 1370.5,1985.8 1376.7,1982.4 1379.0,1973.2 1385.2,1976.3 1390.6,1976.6 1396.0,1980.6 1399.8,1978.6 1402.1,1990.9 1405.2,1992.5 1411.4,1992.5 1416.8,1977.0 1419.9,1977.8 1423.7,1994.0 1425.3,1996.8 1430.6,1996.8 1436.0,1982.4 1439.1,1991.7 1443.0,1986.6 1450.7,1986.3 1456.1,1977.0 1462.2,1977.0 1474.6,1977.0 1479.2,1980.9 1482.3,1987.8 1485.4,1988.3 1490.8,1988.3 1493.0,1989.4 1496.9,1992.5 1502.2,1992.5 1507.6,1985.5 1511.5,1984.8 1516.1,1979.4 1519.2,1972.4 1522.3,1974.0 1525.4,1978.1 1530.8,1978.1 1536.2,1967.8 1539.2,1973.2 1542.0,1967.0 1551.6,1967.3 1557.0,1968.6 1560.0,1970.1 1562.4,1967.8 1564.7,1970.1 1573.1,1970.1 1576.2,1969.3 1583.2,1970.9 1584.7,1979.4 1589.3,1980.1 1591.6,1977.8 1597.0,1970.9 1599.4,1976.6 1601.7,1970.9 1606.3,1968.9 1610.9,1968.9 1617.1,1975.5 1619.4,1968.6 1622.5,1967.8 1625.2,1960.9 1630.2,1960.9 1637.1,1956.2 1639.1,1960.9 1642.2,1955.5 1646.4,1959.0 1651.0,1959.0 1656.4,1967.8 1659.5,1969.3 1662.5,1972.4 1665.6,1967.8 1671.8,1968.3 1677.2,1970.9 1680.3,1969.3 1685.7,1970.9 1694.9,1970.9 1699.5,1973.5 1702.6,1971.3 1708.8,1972.0 1718.8,1971.3 1723.4,1974.7 1731.9,1975.0 1738.0,1977.8 1744.9,1971.3 1751.1,1971.3 1756.5,1967.3 1759.6,1962.4 1765.4,1970.1 1771.1,1970.1 1776.2,1968.9 1779.3,1972.9 1785.0,1972.4 1791.2,1972.4 1796.6,1976.0 1799.7,1976.0 1803.5,1980.9 1806.6,1982.4 1810.4,1982.4 1816.6,1987.8 1820.5,1984.3 1825.1,1975.5 1830.5,1975.5 1836.6,1977.5 1839.7,1977.8 1842.5,1982.4 1845.9,1981.7 1851.3,1981.7 1856.7,1978.6 1859.8,1976.6 1862.5,1972.0 1865.9,1970.4 1871.3,1970.4 1876.7,1966.7 1882.1,1973.2 1885.2,1971.3 1891.4,1971.3 1896.8,1966.7 1899.8,1969.8 1902.1,1963.2 1906.8,1963.6 1912.2,1963.9 1919.9,1966.3 1924.5,1964.7 1931.4,1964.7 1937.6,1969.3 1939.9,1966.3 1944.5,1966.7 1951.5,1966.7 1956.9,1960.6 1959.9,1960.9 1964.6,1963.9 1972.3,1964.7 1976.9,1972.9 1981.5,1967.0 1983.0,1967.4 1990.5,1967.4 1997.2,1965.8 1999.6,1969.1 2003.0,1965.8 2011.3,1965.8 2017.1,1969.1 2022.1,1966.6 2025.5,1968.6 2031.6,1968.6 2036.6,1957.4 2045.4,1966.6 2051.3,1966.9 2058.7,1964.1 2062.6,1966.6 2066.2,1964.6 2071.2,1964.1 2077.9,1961.9 2082.9,1959.6 2091.2,1960.8 2097.0,1962.9 2100.4,1966.6 2102.9,1966.9 2105.4,1964.1 2112.0,1964.1 2119.5,1971.9 2125.3,1980.8 2132.0,1981.3 2137.0,1983.2 2140.3,1986.9 2145.3,1978.6 2151.1,1978.6 2157.0,1981.9 2160.3,1979.1 2165.3,1977.4 2171.1,1977.4 2176.9,1983.2 2191.1,1983.2 2196.9,1991.2 2202.7,1991.2 2209.4,1986.6 2212.7,1986.9 2216.9,1995.2 2220.2,1993.2 2222.7,1997.9 2225.2,1991.9 2231.0,1991.9 2236.9,1985.7 2240.2,1983.2 2245.2,1970.8" fill="none" stroke="#000000" stroke-width="3.7" stroke-linejoin="miter" stroke-miterlimit="5"/>
<polyline points="1253.4,2138.9 1257.2,2136.9 1262.6,2129.2 1265.0,2127.6 1270.3,2127.6 1276.5,2120.4 1279.6,2128.1 1281.6,2147.7 1285.0,2145.8 1290.4,2145.8 1295.8,2162.8 1298.1,2164.3 1301.2,2161.2 1309.7,2162.0 1315.8,2172.0 1319.2,2181.6 1321.7,2168.9 1324.3,2174.3 1330.5,2174.3 1335.9,2180.5 1341.7,2192.1 1344.3,2185.9 1350.5,2185.6 1355.9,2183.1 1359.0,2182.0 1362.1,2177.4 1365.9,2180.5 1370.5,2180.5 1376.7,2184.0 1379.0,2169.7 1391.3,2170.2 1397.5,2171.7 1402.1,2174.8 1409.8,2174.8 1416.8,2170.8 1419.9,2170.5 1422.2,2178.2 1425.3,2182.5 1431.4,2182.5 1436.0,2180.0 1438.8,2192.8 1443.0,2188.7 1445.3,2183.6 1449.9,2183.6 1455.3,2177.9 1459.9,2172.8 1473.0,2173.3 1479.2,2175.4 1481.5,2174.3 1490.8,2174.8 1493.0,2175.4 1496.1,2177.4 1499.2,2171.3 1502.2,2170.2 1507.6,2160.5 1511.5,2159.7 1516.1,2157.4 1520.0,2151.2 1522.3,2150.1 1525.4,2153.2 1530.8,2153.2 1536.5,2141.2 1539.2,2155.1 1542.3,2152.0 1550.8,2153.5 1557.0,2150.1 1560.8,2155.1 1563.9,2157.8 1570.1,2158.5 1576.2,2155.8 1579.6,2158.9 1581.6,2168.2 1584.7,2170.5 1590.1,2170.5 1597.0,2164.6 1599.4,2168.2 1601.7,2166.3 1610.9,2166.3 1617.1,2168.9 1621.7,2162.0 1624.8,2155.8 1630.9,2155.8 1641.7,2159.4 1644.8,2164.0 1652.5,2165.1 1657.1,2170.2 1660.2,2179.0 1662.5,2181.3 1670.3,2181.3 1677.2,2182.5 1681.8,2179.7 1684.9,2182.8 1691.1,2182.8 1696.5,2187.4 1702.6,2184.0 1708.8,2183.1 1716.5,2184.0 1720.3,2184.4 1725.0,2191.3 1731.1,2192.1 1737.3,2195.1 1738.0,2196.7 1744.2,2191.3 1751.1,2191.3 1755.7,2186.7 1759.6,2184.4 1765.7,2188.2 1771.1,2188.2 1776.2,2190.8 1783.5,2192.4 1791.2,2192.4 1796.6,2194.1 1800.4,2194.4 1804.3,2199.0 1811.2,2199.0 1816.6,2195.9 1820.5,2195.9 1822.5,2187.4 1830.5,2187.4 1836.6,2186.7 1839.7,2192.1 1845.9,2193.6 1851.3,2193.3 1856.7,2190.5 1862.1,2185.6 1865.9,2189.7 1875.9,2189.3 1879.0,2192.1 1882.9,2198.2 1886.0,2199.5 1896.0,2199.8 1899.8,2201.3 1902.9,2199.5 1910.6,2199.5 1919.9,2203.6 1926.0,2205.6 1932.2,2205.9 1937.6,2207.5 1944.5,2203.2 1950.7,2203.2 1956.9,2201.3 1963.0,2201.0 1966.1,2200.1 1971.5,2200.1 1976.1,2204.7 1980.0,2207.8 1982.3,2204.7 1983.0,2199.7 1990.5,2200.0 1997.2,2201.3 1999.6,2202.2 2003.0,2199.3 2011.3,2199.7 2017.1,2201.7 2019.6,2200.5 2023.8,2202.7 2031.6,2201.7 2036.6,2192.2 2045.4,2198.8 2051.3,2198.8 2059.6,2196.7 2062.6,2198.8 2066.2,2196.7 2071.2,2196.7 2077.1,2193.3 2079.6,2194.7 2082.9,2192.2 2085.4,2197.7 2091.2,2198.0 2097.0,2205.0 2102.0,2206.0 2106.2,2208.3 2112.0,2208.8 2118.7,2213.8 2126.2,2216.3 2132.0,2216.3 2137.0,2215.5 2140.3,2218.3 2145.3,2213.3 2151.1,2212.6 2157.0,2213.3 2162.8,2212.1 2166.1,2209.7 2171.1,2209.7 2176.9,2206.7 2191.1,2206.7 2196.9,2209.7 2202.7,2209.7 2209.4,2203.8 2212.7,2204.3 2217.7,2209.7 2220.2,2207.2 2222.7,2209.7 2226.0,2203.8 2231.9,2203.3 2236.9,2198.0 2241.0,2193.0 2245.2,2188.0" fill="none" stroke="#c3000f" stroke-width="3.7" stroke-linejoin="miter" stroke-miterlimit="5"/>
<polyline points="100.0,2907.3 103.3,2891.6 105.8,2891.6 109.1,2872.5 114.5,2872.5 119.8,2884.1 123.1,2872.5 125.6,2860.5 128.9,2856.8 133.9,2856.8 139.3,2838.6 143.0,2856.8 144.6,2901.5 147.1,2889.1 153.7,2889.1 158.7,2898.2 161.2,2915.6 165.3,2914.7 167.8,2898.2 173.6,2898.2 178.6,2923.0 181.9,2947.8 184.3,2924.7 187.7,2928.8 193.4,2928.8 196.8,2946.2 200.9,2971.8 204.5,2976.8 207.5,2944.5 213.3,2944.5 219.9,2961.9 225.7,2945.3 233.2,2945.3 237.6,2964.4 240.6,2942.9 242.3,2962.7 250.5,2962.7 257.1,2981.7 259.6,2982.6 262.9,2985.9 266.2,2981.7 270.4,2981.7 277.0,2978.4 281.1,2981.7 285.3,3009.0 291.9,3009.0 297.7,2994.1 299.8,3005.7 305.1,2980.1 310.9,2980.1 319.2,2957.7 322.5,2961.9 333.3,2961.9 339.0,2970.2 340.0,2969.3 345.0,2975.1 349.9,2975.1 356.5,2987.5 358.5,2971.8 361.8,2971.8 366.5,2959.4 369.8,2958.6 375.1,2949.5 378.9,2942.0 381.0,2933.8 383.8,2925.5 393.8,2927.1 397.1,2943.7 400.4,2942.9 403.7,2948.6 409.5,2948.6 414.5,2947.0 418.6,2945.3 422.7,2948.6 431.0,2949.5 437.6,2956.1 440.9,2966.8 448.4,2966.8 454.2,2955.3 457.5,2954.4 460.8,2947.8 464.1,2946.7 469.1,2946.7 474.0,2961.9 478.2,2948.6 481.5,2932.9 482.3,2911.4 488.1,2911.4 493.9,2927.1 497.2,2921.3 499.7,2907.3 503.0,2918.9 507.9,2918.9 513.7,2932.9 516.2,2936.2 519.5,2942.9 522.0,2944.2 528.6,2944.2 532.8,2941.2 538.5,2923.8 546.8,2923.8 552.6,2938.7 556.7,2932.9 560.9,2923.8 565.8,2923.8 571.6,2914.7 574.9,2916.4 580.7,2927.1 585.0,2925.5 591.9,2934.6 596.6,2928.0 600.7,2920.5 606.5,2920.5 611.5,2897.4 614.8,2894.5 620.1,2908.9 625.5,2908.9 632.2,2906.5 634.3,2915.6 637.9,2913.9 640.4,2904.5 645.4,2904.5 652.0,2913.1 656.1,2913.1 659.5,2917.2 666.1,2917.2 670.2,2913.4 674.3,2912.2 676.8,2897.4 680.1,2894.5 690.9,2894.9 696.7,2911.4 698.3,2891.2 704.1,2890.7 710.7,2879.2 715.7,2872.5 719.8,2870.1 724.8,2870.1 730.6,2865.1 733.1,2865.1 735.6,2875.8 738.9,2872.5 744.7,2872.5 749.6,2859.8 753.4,2851.0 755.1,2832.8 757.9,2837.0 762.9,2837.0 768.7,2842.8 772.0,2847.7 777.8,2840.3 783.5,2840.3 789.8,2842.8 791.8,2833.7 795.1,2829.5 797.6,2818.8 803.4,2818.8 808.0,2809.2 816.6,2805.5 823.3,2805.5 828.2,2819.6 830.0,2818.1 832.5,2815.6 834.2,2801.2 838.3,2802.3 847.5,2803.2 851.3,2807.3 853.3,2799.8 856.6,2805.7 862.5,2805.7 868.0,2814.0 873.6,2816.5 881.6,2816.5 887.4,2774.0 890.8,2777.4 895.3,2794.8 901.6,2794.8 906.6,2792.8 909.9,2788.2 912.9,2787.3 915.7,2784.8 921.2,2784.8 926.6,2774.5 929.6,2783.2 932.4,2768.5 934.9,2782.8 940.7,2782.8 947.4,2786.5 950.7,2784.8 953.2,2780.7 955.2,2771.5 961.2,2771.5 965.7,2789.5 969.0,2791.2 971.5,2794.0 974.8,2807.3 979.8,2807.3 984.8,2813.1 988.1,2839.8 991.5,2824.8 994.0,2804.0 999.8,2804.0 1005.6,2815.6 1008.1,2817.3 1011.5,2815.6 1014.0,2802.3 1019.8,2802.3 1025.6,2801.2 1038.9,2801.2 1044.7,2809.0 1050.6,2809.0 1056.4,2795.7 1058.9,2795.7 1064.7,2808.1 1067.2,2800.7 1070.6,2818.1 1073.0,2798.2 1078.9,2798.2 1083.9,2782.3 1087.2,2779.8 1090.5,2784.0 1092.7,2770.7" fill="none" stroke="#03298a" stroke-width="3.7" stroke-linejoin="miter" stroke-miterlimit="5"/>
<polyline points="100.0,3005.7 102.4,2996.6 105.8,2987.5 109.1,2974.3 114.5,2974.3 120.6,2980.1 123.1,2966.8 128.9,2950.3 133.9,2950.3 136.4,2931.3 139.3,2905.6 143.0,2921.3 144.6,2952.8 147.1,2935.4 153.7,2935.4 159.5,2934.6 165.3,2944.5 167.8,2934.6 173.6,2934.6 178.6,2954.4 181.9,2969.3 184.3,2957.7 187.7,2961.1 193.4,2961.1 198.4,2974.3 201.7,2978.4 204.5,2985.0 207.5,2971.8 213.3,2971.8 219.1,2970.2 221.1,2971.0 224.1,2964.4 230.7,2963.5 237.3,2965.2 240.6,2951.1 244.7,2951.1 246.4,2961.9 252.2,2961.9 258.0,2974.3 262.1,2976.8 265.4,2978.4 272.0,2978.4 277.0,2974.3 281.1,2978.4 283.6,2993.3 285.3,3008.2 291.9,3008.2 296.9,2987.5 300.2,2992.5 304.3,2965.2 310.9,2965.2 315.1,2953.6 319.2,2949.5 333.3,2949.5 339.0,2952.0 340.0,2945.3 344.1,2952.0 349.9,2952.0 356.5,2955.3 358.5,2948.6 361.5,2948.6 366.8,2937.9 370.6,2937.1 374.7,2926.3 379.7,2914.7 383.8,2904.0 396.3,2904.0 399.9,2924.7 402.0,2938.7 413.6,2938.7 417.8,2941.2 421.1,2947.0 424.4,2947.0 430.2,2947.0 435.1,2947.0 437.6,2963.5 440.1,2976.8 442.6,2967.7 448.4,2967.7 455.0,2955.3 459.1,2958.6 461.6,2949.5 469.1,2949.5 474.3,2962.7 477.3,2950.3 480.6,2949.5 483.1,2928.8 488.9,2928.8 493.0,2952.8 497.2,2951.5 499.7,2950.3 503.0,2953.6 513.7,2953.1 516.2,2954.4 518.7,2951.1 522.0,2953.6 527.8,2953.6 532.8,2956.9 536.1,2955.3 539.4,2949.5 546.8,2949.5 552.6,2956.9 558.4,2947.0 565.0,2947.8 568.3,2947.8 572.5,2952.8 574.9,2941.2 578.3,2943.7 579.9,2953.6 585.0,2956.9 590.0,2950.3 594.9,2944.5 597.4,2943.7 600.7,2936.2 606.5,2936.2 611.5,2937.1 614.8,2939.9 618.1,2939.5 620.6,2942.9 626.4,2942.9 632.2,2940.4 634.6,2936.2 636.6,2949.5 639.6,2942.0 645.4,2942.0 651.2,2945.3 654.2,2948.6 657.0,2946.2 664.4,2946.5 671.0,2950.3 674.3,2948.6 676.0,2935.4 680.1,2939.5 684.3,2939.5 688.4,2945.3 693.4,2950.3 696.7,2946.2 698.8,2935.4 705.0,2935.4 709.1,2925.5 712.4,2917.2 714.9,2915.6 719.8,2913.1 725.6,2913.1 730.6,2914.7 733.1,2918.0 735.6,2925.5 738.0,2916.4 743.8,2916.4 750.5,2904.8 754.6,2894.0 757.1,2901.5 764.5,2901.5 772.0,2904.8 774.4,2899.0 777.8,2901.5 783.5,2901.5 789.8,2909.8 791.0,2897.4 794.3,2894.5 797.6,2888.3 803.4,2888.3 808.0,2875.0 810.8,2875.0 816.6,2869.2 823.3,2869.2 828.2,2879.6 830.0,2881.4 833.3,2867.2 836.7,2866.4 842.5,2866.4 848.3,2873.1 851.3,2870.6 853.3,2865.6 862.5,2865.6 868.0,2876.7 873.3,2872.2 875.8,2876.1 882.4,2876.1 886.6,2847.3 889.9,2845.6 895.8,2854.4 900.8,2854.4 906.6,2851.8 909.9,2851.1 915.7,2847.8 921.2,2847.8 926.6,2838.9 929.6,2850.6 931.9,2839.8 934.9,2847.3 944.9,2847.8 949.5,2852.8 953.2,2841.4 955.7,2832.8 961.2,2832.8 966.5,2846.4 969.0,2836.4 974.0,2863.9 980.7,2863.9 985.7,2865.6 988.5,2878.1 992.3,2878.1 994.0,2863.4 999.8,2863.4 1005.6,2868.4 1008.1,2877.2 1011.5,2878.9 1014.0,2871.4 1019.8,2871.4 1025.6,2866.4 1038.9,2866.4 1044.7,2868.9 1050.6,2868.9 1056.4,2864.4 1064.7,2864.4 1067.2,2860.6 1070.6,2862.3 1073.0,2851.4 1078.9,2851.4 1083.9,2841.8 1087.2,2843.4 1089.7,2854.8 1092.7,2846.4" fill="none" stroke="#000000" stroke-width="3.7" stroke-linejoin="miter" stroke-miterlimit="5"/>
<polyline points="100.0,2774.1 101.9,2735.2 105.3,2753.4 108.6,2732.7 114.5,2732.7 119.8,2752.6 123.5,2739.3 124.8,2709.6 128.1,2699.3 133.9,2699.3 139.7,2688.1 143.0,2707.9 144.3,2787.3 147.1,2768.3 153.7,2768.3 159.5,2789.0 163.7,2817.1 166.1,2820.4 172.8,2817.9 177.7,2846.9 181.0,2889.9 184.0,2835.3 186.8,2871.7 193.4,2871.7 198.4,2896.5 201.7,2931.3 204.5,2937.9 207.2,2887.4 212.5,2887.4 219.1,2878.3 221.1,2893.2 223.2,2878.3 226.5,2886.9 232.3,2886.9 238.9,2892.4 240.6,2853.5 243.6,2837.0 246.4,2846.9 252.2,2846.9 258.0,2875.0 260.1,2865.1 262.9,2877.5 272.0,2877.5 277.0,2862.6 281.1,2866.7 286.1,2904.8 291.1,2904.8 297.7,2902.3 299.8,2931.3 305.1,2880.8 310.9,2880.8 319.2,2843.6 333.3,2843.6 339.0,2863.4 340.0,2862.6 342.5,2864.3 345.0,2874.2 349.9,2874.2 356.5,2891.6 358.5,2865.1 361.8,2865.1 367.3,2833.7 369.8,2833.7 375.6,2815.5 378.4,2802.2 381.0,2797.3 383.3,2809.7 389.6,2809.7 393.3,2790.6 395.4,2777.4 397.9,2799.7 401.2,2790.6 403.7,2798.9 409.5,2798.9 414.1,2793.9 418.1,2786.5 421.1,2789.0 423.6,2797.3 432.7,2797.3 437.6,2792.6 439.3,2823.7 442.6,2833.7 449.2,2833.7 453.3,2815.5 455.0,2807.2 457.5,2807.2 460.0,2793.9 463.3,2796.4 469.1,2796.4 474.8,2813.0 476.5,2787.3 479.8,2773.3 482.3,2744.0 488.1,2744.0 493.9,2750.1 499.7,2740.2 502.1,2754.2 507.9,2754.2 512.9,2775.7 518.7,2811.3 522.0,2803.9 528.6,2803.5 532.8,2802.2 538.5,2785.7 541.9,2789.8 547.6,2789.8 552.6,2800.6 555.9,2802.2 560.9,2789.8 567.5,2789.8 572.5,2793.1 574.9,2788.2 579.9,2805.5 585.0,2804.7 591.9,2811.3 595.3,2808.5 599.9,2795.6 606.5,2795.6 611.5,2758.4 614.5,2750.1 617.8,2755.9 620.1,2774.9 625.5,2774.9 632.2,2772.4 633.8,2784.0 638.8,2778.2 645.4,2778.2 650.4,2784.0 653.7,2783.2 656.5,2788.2 659.1,2808.0 666.1,2808.0 670.2,2802.2 674.3,2804.7 675.7,2776.6 679.3,2775.7 685.1,2775.7 689.2,2778.2 691.7,2782.4 696.2,2799.7 698.3,2784.8 704.1,2784.8 708.8,2777.4 712.4,2767.5 715.7,2760.5 719.0,2755.9 724.8,2755.6 728.9,2749.6 733.1,2746.8 735.2,2759.5 743.8,2759.2 748.8,2745.1 752.1,2740.2 755.1,2730.2 757.9,2736.4 764.5,2736.4 770.0,2739.3 772.0,2747.9 777.8,2736.9 783.5,2736.9 789.8,2744.3 792.6,2736.0 796.8,2712.5 803.4,2712.5 808.0,2698.8 812.5,2702.9 816.6,2704.3 823.3,2704.3 828.2,2730.2 830.0,2728.2 833.3,2708.3 836.7,2710.8 842.5,2710.8 848.3,2713.3 851.3,2719.9 853.3,2709.1 856.6,2715.8 862.5,2715.8 868.0,2726.9 870.3,2718.3 875.8,2727.4 881.6,2728.2 887.4,2671.6 890.8,2679.1 895.3,2701.3 900.8,2701.3 906.6,2699.9 909.9,2697.9 912.9,2701.3 915.2,2690.8 921.2,2690.8 926.6,2677.5 929.6,2687.0 932.4,2665.8 934.9,2687.5 940.7,2687.5 948.5,2701.3 952.9,2702.9 954.5,2692.5 961.2,2692.5 966.5,2733.2 969.0,2731.2 972.3,2744.1 975.7,2748.2 980.7,2748.2 985.7,2760.7 988.5,2792.3 994.0,2751.2 1000.1,2751.2 1005.6,2763.2 1011.5,2762.4 1013.1,2743.2 1019.8,2743.2 1025.6,2733.6 1038.9,2733.6 1044.7,2744.6 1050.6,2744.6 1055.6,2731.6 1058.9,2731.6 1064.7,2754.5 1067.2,2743.2 1070.6,2757.9 1072.2,2728.2 1078.9,2728.2 1083.9,2696.3 1087.2,2692.5 1090.5,2690.0 1092.7,2675.8" fill="none" stroke="#c3000f" stroke-width="3.7" stroke-linejoin="miter" stroke-miterlimit="5"/>
<polyline points="1253.0,2904.7 1255.5,2870.3 1258.4,2887.9 1261.7,2882.9 1267.8,2882.9 1273.5,2894.7 1277.8,2857.8 1280.7,2854.4 1287.4,2854.4 1292.9,2830.9 1296.6,2858.6 1298.0,2903.0 1301.3,2894.7 1306.7,2894.7 1314.7,2914.8 1318.4,2915.6 1320.4,2902.2 1326.8,2902.2 1333.5,2939.9 1335.2,2953.3 1337.7,2926.5 1340.2,2921.5 1346.6,2921.5 1349.4,2946.6 1351.1,2960.0 1357.0,2975.1 1359.5,2939.9 1365.4,2939.9 1372.1,2951.7 1374.1,2958.4 1377.1,2951.7 1380.5,2950.0 1385.5,2950.0 1390.5,2956.7 1393.9,2932.4 1397.2,2954.2 1405.6,2954.2 1410.3,2973.5 1414.0,2975.1 1415.7,2990.2 1419.0,2982.7 1424.9,2982.7 1430.4,2980.2 1435.8,2993.6 1439.1,3020.4 1444.2,3020.4 1450.0,3015.4 1452.6,3032.1 1457.6,2996.1 1464.3,2996.1 1469.3,2981.8 1472.7,2973.5 1476.0,2976.8 1486.1,2976.8 1492.0,2989.4 1493.0,2995.3 1498.0,2996.1 1503.4,2996.6 1508.9,3003.6 1511.8,2983.5 1514.8,2983.5 1519.8,2971.8 1523.2,2970.9 1527.4,2958.4 1530.7,2946.6 1534.6,2936.6 1542.5,2936.6 1549.2,2926.5 1550.8,2945.8 1555.0,2958.4 1562.6,2958.4 1567.6,2952.5 1573.5,2958.4 1576.8,2965.1 1581.9,2965.1 1586.9,2976.0 1593.6,2987.7 1597.0,2982.7 1603.7,2982.7 1608.7,2984.4 1611.2,2986.9 1612.9,2975.1 1622.1,2975.1 1627.1,2996.9 1633.0,2954.2 1635.2,2942.4 1641.4,2942.4 1646.9,2947.5 1650.6,2945.0 1653.1,2932.4 1654.8,2951.7 1661.5,2952.5 1667.4,2960.0 1670.7,2974.3 1673.2,2980.2 1676.6,2982.7 1680.8,2982.7 1687.5,2995.3 1691.7,2964.7 1695.0,2970.9 1700.9,2970.9 1705.9,2988.5 1709.3,2986.9 1714.3,2985.2 1721.0,2985.2 1724.4,2980.2 1729.4,2976.8 1734.4,2989.4 1738.0,2989.4 1745.0,2993.6 1749.7,2988.2 1753.9,2979.3 1759.8,2982.7 1763.2,2975.1 1767.8,2959.2 1773.5,2970.9 1779.1,2970.9 1785.8,2976.8 1787.5,2993.6 1791.3,2986.0 1793.3,2970.9 1799.2,2970.9 1804.7,2983.5 1806.7,2978.5 1812.6,2994.4 1818.5,2994.4 1824.4,2991.6 1827.7,2991.9 1831.9,2975.1 1837.8,2975.1 1844.0,2970.9 1849.5,2989.4 1852.0,2973.5 1857.9,2973.5 1863.4,2954.2 1867.1,2949.1 1869.1,2942.4 1877.2,2942.4 1883.0,2937.9 1888.9,2945.8 1891.4,2940.8 1897.3,2939.9 1904.0,2930.7 1906.5,2927.3 1908.2,2907.2 1916.6,2908.1 1922.4,2912.3 1925.0,2916.4 1930.8,2911.4 1936.7,2911.4 1942.6,2924.0 1945.9,2913.1 1948.4,2906.4 1950.9,2890.5 1956.0,2890.5 1961.8,2878.7 1966.9,2883.8 1970.2,2874.2 1976.1,2874.2 1981.1,2892.1 1983.0,2893.0 1986.4,2875.4 1989.7,2878.8 1995.6,2878.8 2000.6,2877.1 2004.5,2878.8 2006.5,2871.2 2009.8,2878.8 2015.7,2878.8 2021.2,2892.2 2025.8,2890.5 2030.0,2896.4 2035.8,2896.4 2040.0,2848.6 2044.2,2851.9 2048.7,2873.7 2055.1,2873.7 2060.1,2872.0 2063.2,2863.7 2065.2,2868.7 2068.5,2859.5 2074.9,2859.5 2080.3,2856.1 2083.3,2854.4 2085.6,2850.2 2094.0,2850.2 2099.6,2863.7 2106.3,2859.5 2108.4,2846.9 2114.6,2846.9 2119.2,2884.6 2121.9,2877.9 2126.9,2899.7 2133.1,2899.7 2139.0,2908.9 2141.5,2934.9 2144.8,2922.4 2147.3,2904.8 2153.2,2904.8 2159.9,2914.0 2162.4,2914.8 2165.0,2908.9 2167.5,2912.3 2172.5,2912.3 2178.4,2905.6 2191.8,2905.6 2197.7,2903.1 2203.5,2903.1 2209.4,2898.0 2211.9,2898.0 2217.8,2912.3 2220.3,2907.3 2223.1,2919.0 2225.8,2908.1 2232.9,2908.1 2237.1,2889.7 2240.4,2884.6 2243.3,2884.6 2246.3,2868.7" fill="none" stroke="#03298a" stroke-width="3.7" stroke-linejoin="miter" stroke-miterlimit="5"/>
<polyline points="1253.0,3002.8 1255.5,2976.8 1258.9,2972.6 1263.1,2968.4 1267.8,2968.4 1273.5,2972.6 1276.5,2963.4 1281.5,2945.0 1287.4,2945.0 1292.9,2908.9 1295.3,2934.9 1298.3,2980.2 1301.3,2948.3 1306.7,2948.3 1312.6,2958.4 1317.6,2945.0 1320.4,2934.9 1326.8,2934.9 1331.8,2956.7 1335.2,2966.8 1337.2,2941.6 1339.4,2961.7 1346.1,2961.7 1352.0,2970.1 1355.3,2980.2 1357.8,2996.1 1360.7,2953.3 1365.4,2953.3 1370.4,2965.1 1374.1,2975.1 1376.8,2960.0 1380.5,2962.6 1385.5,2962.6 1391.4,2963.4 1396.9,2950.0 1399.7,2958.4 1404.8,2959.2 1410.3,2979.3 1414.0,2976.8 1416.5,2988.5 1419.0,2983.5 1425.7,2983.5 1430.4,2966.8 1433.8,2981.8 1438.3,3004.5 1444.2,3004.5 1450.0,2998.6 1452.6,3006.2 1455.9,3002.0 1465.1,3002.8 1468.5,2970.1 1472.3,2964.2 1476.9,2969.3 1486.1,2969.3 1492.0,2981.0 1493.0,2980.2 1498.0,2990.2 1503.4,2990.2 1509.4,3016.2 1511.8,3005.3 1515.6,3005.3 1520.7,2989.4 1524.0,2986.9 1528.2,2970.1 1531.9,2955.0 1534.6,2952.5 1536.9,2956.7 1543.0,2956.7 1548.3,2939.9 1550.8,2953.3 1556.4,2991.1 1563.1,2991.1 1566.8,2992.7 1569.3,2996.9 1571.8,2993.6 1576.8,3004.5 1583.5,3004.5 1593.6,3002.8 1596.1,3023.8 1602.8,3023.8 1607.9,2988.5 1611.2,2998.6 1613.7,2990.2 1617.1,2995.3 1622.1,2995.3 1627.1,3017.9 1629.7,2985.2 1633.0,2994.4 1635.2,2957.5 1641.4,2957.5 1646.9,2970.9 1650.6,2981.8 1653.1,2981.8 1654.8,3001.1 1661.5,3001.1 1666.5,3031.3 1669.9,3023.8 1673.2,3022.9 1675.8,3012.0 1680.8,3012.0 1686.7,3006.2 1691.7,2996.9 1700.9,2996.9 1705.9,3001.1 1709.3,2998.6 1711.0,2987.7 1714.3,2989.4 1721.0,2989.4 1725.2,3008.7 1727.7,2996.9 1731.9,2995.3 1734.4,3003.6 1738.0,3003.6 1745.5,2996.1 1749.7,2993.6 1753.9,2978.5 1759.8,2978.8 1765.7,2982.7 1768.2,2976.8 1770.7,2995.3 1773.5,2999.4 1779.1,2999.4 1785.8,3007.0 1790.8,3012.0 1793.3,3008.7 1804.2,3009.5 1808.4,3014.5 1812.6,3028.8 1819.3,3028.8 1824.4,3020.4 1830.2,3020.4 1833.6,3022.1 1845.3,3022.4 1849.5,3033.8 1852.0,3029.6 1857.9,3029.6 1862.9,3019.6 1868.4,3010.3 1872.1,3012.9 1883.0,3012.9 1888.9,3023.8 1891.4,3020.4 1897.3,3020.1 1904.0,3016.2 1906.5,3020.4 1908.2,3003.6 1912.4,3002.0 1918.2,3002.3 1923.3,3004.5 1926.6,3011.2 1930.8,3001.1 1936.7,3001.1 1944.2,3003.6 1950.9,2995.3 1956.0,2995.3 1961.8,2982.7 1966.0,2979.3 1970.2,2974.3 1976.1,2974.3 1982.0,2978.5 1983.0,2971.0 1988.0,2976.9 1995.6,2976.9 2001.4,2978.9 2006.5,2972.7 2009.8,2974.3 2020.7,2974.3 2024.1,2971.0 2029.1,2969.7 2035.8,2969.7 2040.4,2934.1 2043.4,2947.5 2045.9,2937.5 2049.2,2945.0 2056.8,2945.3 2063.5,2945.8 2068.5,2934.9 2074.4,2934.9 2080.3,2927.4 2083.3,2929.9 2085.6,2919.0 2088.7,2942.5 2098.7,2942.8 2102.4,2940.3 2106.3,2940.0 2107.9,2929.1 2114.6,2929.1 2119.2,2950.9 2122.2,2946.7 2127.2,2953.4 2133.9,2953.4 2139.8,2965.1 2141.5,2990.3 2146.5,2958.4 2152.4,2958.4 2158.2,2963.4 2161.6,2966.0 2165.0,2971.8 2167.5,2958.4 2172.5,2958.4 2178.4,2940.0 2192.6,2940.0 2197.7,2965.1 2203.5,2965.1 2209.4,2954.2 2211.9,2954.2 2217.8,2960.1 2220.3,2958.4 2223.1,2967.6 2225.8,2956.7 2232.9,2956.7 2237.1,2931.6 2243.3,2937.5 2246.3,2926.6" fill="none" stroke="#000000" stroke-width="3.7" stroke-linejoin="miter" stroke-miterlimit="5"/>
<polyline points="1253.0,2764.7 1255.5,2723.6 1258.4,2753.0 1261.7,2726.1 1267.8,2726.1 1273.5,2739.6 1278.2,2696.8 1280.7,2683.4 1287.4,2683.4 1292.4,2675.8 1296.6,2700.2 1298.0,2775.6 1301.3,2758.8 1306.7,2758.8 1314.2,2789.0 1317.6,2819.2 1320.1,2807.5 1326.8,2807.5 1331.8,2844.3 1334.9,2880.4 1337.2,2836.0 1340.2,2869.5 1346.1,2869.5 1351.1,2896.3 1354.0,2918.1 1357.0,2947.5 1359.5,2882.1 1365.4,2882.1 1372.1,2876.2 1374.1,2898.0 1376.8,2862.8 1380.5,2881.2 1385.5,2881.2 1391.4,2896.3 1393.9,2864.5 1396.4,2829.3 1399.7,2856.9 1404.8,2856.9 1410.3,2884.6 1413.7,2869.5 1415.7,2887.9 1419.0,2885.4 1424.9,2885.4 1430.4,2867.8 1433.8,2872.0 1438.3,2914.8 1444.2,2914.8 1450.0,2917.3 1452.6,2938.2 1457.6,2893.0 1464.3,2893.0 1470.2,2873.7 1472.3,2851.1 1476.9,2854.1 1486.1,2854.1 1492.0,2864.5 1493.0,2862.8 1498.0,2874.5 1503.4,2874.5 1509.4,2906.4 1511.4,2874.5 1514.8,2874.5 1519.8,2841.8 1523.2,2841.8 1529.9,2814.2 1534.1,2797.4 1536.9,2810.8 1543.0,2810.8 1548.3,2760.5 1550.8,2798.2 1554.7,2799.1 1557.6,2791.5 1565.1,2791.5 1568.5,2793.2 1571.0,2784.0 1576.0,2801.6 1581.9,2801.6 1586.9,2804.1 1589.4,2809.1 1593.6,2836.0 1596.1,2842.7 1602.0,2842.7 1607.0,2833.5 1610.4,2830.1 1612.9,2820.9 1621.3,2821.7 1627.1,2846.9 1632.2,2799.1 1635.2,2759.7 1641.4,2759.7 1646.9,2774.8 1652.3,2753.0 1654.8,2779.0 1661.5,2779.0 1666.5,2812.5 1672.4,2845.2 1675.8,2838.5 1682.5,2838.5 1687.5,2836.8 1692.5,2831.8 1695.0,2836.0 1700.9,2836.0 1705.9,2842.7 1709.3,2851.1 1714.3,2838.5 1721.0,2838.5 1725.2,2841.0 1729.4,2841.0 1734.4,2851.9 1738.0,2851.9 1745.0,2867.8 1748.4,2864.1 1753.9,2839.3 1759.8,2839.3 1764.5,2809.1 1768.2,2807.8 1770.7,2815.8 1773.2,2847.7 1779.1,2847.7 1784.6,2836.0 1786.6,2851.9 1790.0,2856.1 1792.5,2863.6 1798.4,2863.6 1804.7,2874.5 1806.7,2865.3 1810.1,2866.1 1813.1,2888.8 1818.5,2888.8 1824.4,2875.4 1827.2,2887.1 1829.4,2856.1 1832.7,2848.5 1838.6,2848.5 1844.5,2851.1 1846.7,2864.5 1849.5,2871.2 1852.4,2861.1 1857.9,2861.1 1863.4,2844.3 1867.9,2831.8 1871.3,2822.9 1877.2,2822.9 1882.2,2819.2 1885.6,2817.9 1888.1,2830.9 1892.3,2826.7 1897.3,2826.7 1904.0,2817.5 1910.7,2805.8 1915.7,2805.4 1922.4,2806.6 1925.0,2818.9 1929.1,2817.2 1930.8,2804.1 1936.7,2804.1 1942.6,2823.4 1945.9,2809.1 1950.1,2785.7 1956.0,2785.7 1961.8,2764.7 1964.4,2776.4 1970.2,2770.6 1976.1,2770.6 1981.1,2801.6 1983.0,2799.1 1986.4,2777.3 1988.9,2781.5 1995.6,2781.5 2000.6,2784.8 2004.5,2789.9 2006.5,2779.0 2009.8,2782.0 2015.7,2782.0 2021.2,2793.2 2023.6,2785.7 2028.3,2795.4 2035.0,2796.6 2040.0,2740.4 2043.4,2738.4 2048.7,2763.9 2054.3,2763.9 2060.1,2768.1 2063.2,2764.7 2066.0,2766.4 2068.5,2760.2 2074.9,2760.2 2080.3,2742.1 2082.8,2755.5 2085.3,2731.2 2087.8,2754.7 2094.0,2754.7 2099.6,2770.3 2102.4,2772.3 2105.4,2781.5 2107.4,2767.2 2114.6,2767.2 2118.0,2820.9 2119.7,2835.2 2121.9,2828.9 2127.6,2851.9 2133.9,2851.9 2139.8,2864.5 2141.5,2896.4 2144.8,2875.4 2147.3,2844.4 2154.1,2844.4 2158.2,2866.2 2165.0,2861.1 2166.6,2845.2 2172.5,2845.2 2178.4,2833.5 2191.8,2833.5 2197.7,2842.7 2203.5,2842.7 2209.4,2831.8 2211.9,2831.8 2217.8,2860.3 2220.3,2841.9 2223.1,2861.1 2225.8,2838.5 2232.9,2838.5 2237.1,2807.5 2242.9,2790.7 2246.3,2771.4" fill="none" stroke="#c3000f" stroke-width="3.7" stroke-linejoin="miter" stroke-miterlimit="5"/>
<text x="0.81" y="54.90" font-size="48.5" font-weight="bold" fill="#000" textLength="441.14" lengthAdjust="spacingAndGlyphs">Strom Terminmarkt</text>
<text x="1.20" y="195.70" font-size="38.3" font-weight="bold" fill="#000" textLength="689.19" lengthAdjust="spacingAndGlyphs">Terminmarktpreise Base in Euro/MWh</text>
<text x="700.84" y="195.70" font-size="38.3" fill="#000" textLength="90.01" lengthAdjust="spacingAndGlyphs">(EEX)</text>
<text x="163.52" y="259.50" font-size="31.0" fill="#000" textLength="153.69" lengthAdjust="spacingAndGlyphs">Handelstag</text>
<text x="534.26" y="259.50" font-size="31.0" fill="#000" textLength="113.14" lengthAdjust="spacingAndGlyphs">Kontrakt</text>
<text x="917.27" y="259.50" font-size="31.0" fill="#000" textLength="69.22" lengthAdjust="spacingAndGlyphs">Preis</text>
<text x="9.25" y="306.84" font-size="31.0" fill="#000" textLength="39.90" lengthAdjust="spacingAndGlyphs">M1</text>
<text x="198.96" y="306.84" font-size="31.0" fill="#000" textLength="118.26" lengthAdjust="spacingAndGlyphs">16.01.26</text>
<text x="420.73" y="306.84" font-size="31.0" fill="#000" textLength="342.78" lengthAdjust="spacingAndGlyphs">German Power Feb-2026</text>
<text x="894.30" y="306.84" font-size="31.0" fill="#000" textLength="92.92" lengthAdjust="spacingAndGlyphs">122,79</text>
<text x="9.08" y="354.18" font-size="31.0" fill="#000" textLength="43.58" lengthAdjust="spacingAndGlyphs">M2</text>
<text x="198.96" y="354.18" font-size="31.0" fill="#000" textLength="118.26" lengthAdjust="spacingAndGlyphs">16.01.26</text>
<text x="420.74" y="354.18" font-size="31.0" fill="#000" textLength="342.75" lengthAdjust="spacingAndGlyphs">German Power Mar-2026</text>
<text x="911.19" y="354.18" font-size="31.0" fill="#000" textLength="76.02" lengthAdjust="spacingAndGlyphs">96,95</text>
<text x="9.06" y="401.52" font-size="31.0" fill="#000" textLength="44.01" lengthAdjust="spacingAndGlyphs">M3</text>
<text x="198.96" y="401.52" font-size="31.0" fill="#000" textLength="118.26" lengthAdjust="spacingAndGlyphs">16.01.26</text>
<text x="423.26" y="401.52" font-size="31.0" fill="#000" textLength="337.71" lengthAdjust="spacingAndGlyphs">German Power Apr-2026</text>
<text x="911.19" y="401.52" font-size="31.0" fill="#000" textLength="76.02" lengthAdjust="spacingAndGlyphs">83,27</text>
<text x="9.69" y="448.86" font-size="31.0" fill="#000" textLength="37.43" lengthAdjust="spacingAndGlyphs">Q1</text>
<text x="198.96" y="448.86" font-size="31.0" fill="#000" textLength="118.26" lengthAdjust="spacingAndGlyphs">16.01.26</text>
<text x="426.64" y="448.86" font-size="31.0" fill="#000" textLength="330.96" lengthAdjust="spacingAndGlyphs">German Power Q2-2026</text>
<text x="911.19" y="448.86" font-size="31.0" fill="#000" textLength="76.02" lengthAdjust="spacingAndGlyphs">79,79</text>
<text x="9.64" y="496.20" font-size="31.0" fill="#000" textLength="39.54" lengthAdjust="spacingAndGlyphs">Q2</text>
<text x="198.96" y="496.20" font-size="31.0" fill="#000" textLength="118.26" lengthAdjust="spacingAndGlyphs">16.01.26</text>
<text x="426.64" y="496.20" font-size="31.0" fill="#000" textLength="330.96" lengthAdjust="spacingAndGlyphs">German Power Q3-2026</text>
<text x="911.19" y="496.20" font-size="31.0" fill="#000" textLength="76.02" lengthAdjust="spacingAndGlyphs">88,72</text>
<text x="9.64" y="543.54" font-size="31.0" fill="#000" textLength="39.86" lengthAdjust="spacingAndGlyphs">Q3</text>
<text x="198.96" y="543.54" font-size="31.0" fill="#000" textLength="118.26" lengthAdjust="spacingAndGlyphs">16.01.26</text>
<text x="426.64" y="543.54" font-size="31.0" fill="#000" textLength="330.96" lengthAdjust="spacingAndGlyphs">German Power Q4-2026</text>
<text x="894.30" y="543.54" font-size="31.0" fill="#000" textLength="92.92" lengthAdjust="spacingAndGlyphs">101,12</text>
<text x="9.60" y="590.88" font-size="31.0" fill="#000" textLength="33.29" lengthAdjust="spacingAndGlyphs">Y1</text>
<text x="198.96" y="590.88" font-size="31.0" fill="#000" textLength="118.26" lengthAdjust="spacingAndGlyphs">16.01.26</text>
<text x="424.11" y="590.88" font-size="31.0" fill="#000" textLength="336.02" lengthAdjust="spacingAndGlyphs">German Power Cal-2027</text>
<text x="911.19" y="590.88" font-size="31.0" fill="#000" textLength="76.02" lengthAdjust="spacingAndGlyphs">87,18</text>
<text x="9.60" y="638.22" font-size="31.0" fill="#000" textLength="36.08" lengthAdjust="spacingAndGlyphs">Y2</text>
<text x="198.96" y="638.22" font-size="31.0" fill="#000" textLength="118.26" lengthAdjust="spacingAndGlyphs">16.01.26</text>
<text x="424.11" y="638.22" font-size="31.0" fill="#000" textLength="336.02" lengthAdjust="spacingAndGlyphs">German Power Cal-2028</text>
<text x="911.19" y="638.22" font-size="31.0" fill="#000" textLength="76.02" lengthAdjust="spacingAndGlyphs">81,57</text>
<text x="9.60" y="685.56" font-size="31.0" fill="#000" textLength="36.70" lengthAdjust="spacingAndGlyphs">Y3</text>
<text x="198.96" y="685.56" font-size="31.0" fill="#000" textLength="118.26" lengthAdjust="spacingAndGlyphs">16.01.26</text>
<text x="424.11" y="685.56" font-size="31.0" fill="#000" textLength="336.02" lengthAdjust="spacingAndGlyphs">German Power Cal-2029</text>
<text x="911.19" y="685.56" font-size="31.0" fill="#000" textLength="76.02" lengthAdjust="spacingAndGlyphs">77,09</text>
<text x="1158.60" y="195.70" font-size="38.3" font-weight="bold" fill="#000" textLength="689.70" lengthAdjust="spacingAndGlyphs">Terminmarktpreise Peak in Euro/MWh</text>
<text x="1858.03" y="195.70" font-size="38.3" fill="#000" textLength="90.32" lengthAdjust="spacingAndGlyphs">(EEX)</text>
<text x="1316.52" y="259.50" font-size="31.0" fill="#000" textLength="153.69" lengthAdjust="spacingAndGlyphs">Handelstag</text>
<text x="1687.26" y="259.50" font-size="31.0" fill="#000" textLength="113.14" lengthAdjust="spacingAndGlyphs">Kontrakt</text>
<text x="2070.27" y="259.50" font-size="31.0" fill="#000" textLength="69.22" lengthAdjust="spacingAndGlyphs">Preis</text>
<text x="1162.25" y="306.84" font-size="31.0" fill="#000" textLength="39.90" lengthAdjust="spacingAndGlyphs">M1</text>
<text x="1351.96" y="306.84" font-size="31.0" fill="#000" textLength="118.26" lengthAdjust="spacingAndGlyphs">16.01.26</text>
<text x="1573.73" y="306.84" font-size="31.0" fill="#000" textLength="342.78" lengthAdjust="spacingAndGlyphs">German Power Feb-2026</text>
<text x="2047.30" y="306.84" font-size="31.0" fill="#000" textLength="92.92" lengthAdjust="spacingAndGlyphs">144,67</text>
<text x="1162.08" y="354.18" font-size="31.0" fill="#000" textLength="43.58" lengthAdjust="spacingAndGlyphs">M2</text>
<text x="1351.96" y="354.18" font-size="31.0" fill="#000" textLength="118.26" lengthAdjust="spacingAndGlyphs">16.01.26</text>
<text x="1573.74" y="354.18" font-size="31.0" fill="#000" textLength="342.75" lengthAdjust="spacingAndGlyphs">German Power Mar-2026</text>
<text x="2046.32" y="354.18" font-size="31.0" fill="#000" textLength="92.92" lengthAdjust="spacingAndGlyphs">100,04</text>
<text x="1162.06" y="401.52" font-size="31.0" fill="#000" textLength="44.01" lengthAdjust="spacingAndGlyphs">M3</text>
<text x="1351.96" y="401.52" font-size="31.0" fill="#000" textLength="118.26" lengthAdjust="spacingAndGlyphs">16.01.26</text>
<text x="1576.26" y="401.52" font-size="31.0" fill="#000" textLength="337.71" lengthAdjust="spacingAndGlyphs">German Power Apr-2026</text>
<text x="2063.21" y="401.52" font-size="31.0" fill="#000" textLength="76.02" lengthAdjust="spacingAndGlyphs">65,94</text>
<text x="1162.69" y="448.86" font-size="31.0" fill="#000" textLength="37.43" lengthAdjust="spacingAndGlyphs">Q1</text>
<text x="1351.96" y="448.86" font-size="31.0" fill="#000" textLength="118.26" lengthAdjust="spacingAndGlyphs">16.01.26</text>
<text x="1579.64" y="448.86" font-size="31.0" fill="#000" textLength="330.96" lengthAdjust="spacingAndGlyphs">German Power Q2-2026</text>
<text x="2064.19" y="448.86" font-size="31.0" fill="#000" textLength="76.02" lengthAdjust="spacingAndGlyphs">58,51</text>
<text x="1162.64" y="496.20" font-size="31.0" fill="#000" textLength="39.54" lengthAdjust="spacingAndGlyphs">Q2</text>
<text x="1351.96" y="496.20" font-size="31.0" fill="#000" textLength="118.26" lengthAdjust="spacingAndGlyphs">16.01.26</text>
<text x="1579.64" y="496.20" font-size="31.0" fill="#000" textLength="330.96" lengthAdjust="spacingAndGlyphs">German Power Q3-2026</text>
<text x="2063.21" y="496.20" font-size="31.0" fill="#000" textLength="76.02" lengthAdjust="spacingAndGlyphs">78,94</text>
<text x="1162.64" y="543.54" font-size="31.0" fill="#000" textLength="39.86" lengthAdjust="spacingAndGlyphs">Q3</text>
<text x="1351.96" y="543.54" font-size="31.0" fill="#000" textLength="118.26" lengthAdjust="spacingAndGlyphs">16.01.26</text>
<text x="1579.64" y="543.54" font-size="31.0" fill="#000" textLength="330.96" lengthAdjust="spacingAndGlyphs">German Power Q4-2026</text>
<text x="2047.30" y="543.54" font-size="31.0" fill="#000" textLength="92.92" lengthAdjust="spacingAndGlyphs">123,01</text>
<text x="1162.60" y="590.88" font-size="31.0" fill="#000" textLength="33.29" lengthAdjust="spacingAndGlyphs">Y1</text>
<text x="1351.96" y="590.88" font-size="31.0" fill="#000" textLength="118.26" lengthAdjust="spacingAndGlyphs">16.01.26</text>
<text x="1577.11" y="590.88" font-size="31.0" fill="#000" textLength="336.02" lengthAdjust="spacingAndGlyphs">German Power Cal-2027</text>
<text x="2063.21" y="590.88" font-size="31.0" fill="#000" textLength="76.02" lengthAdjust="spacingAndGlyphs">91,44</text>
<text x="1162.60" y="638.22" font-size="31.0" fill="#000" textLength="36.08" lengthAdjust="spacingAndGlyphs">Y2</text>
<text x="1351.96" y="638.22" font-size="31.0" fill="#000" textLength="118.26" lengthAdjust="spacingAndGlyphs">16.01.26</text>
<text x="1577.11" y="638.22" font-size="31.0" fill="#000" textLength="336.02" lengthAdjust="spacingAndGlyphs">German Power Cal-2028</text>
<text x="2064.19" y="638.22" font-size="31.0" fill="#000" textLength="76.02" lengthAdjust="spacingAndGlyphs">86,03</text>
<text x="1162.60" y="685.56" font-size="31.0" fill="#000" textLength="36.70" lengthAdjust="spacingAndGlyphs">Y3</text>
<text x="1351.96" y="685.56" font-size="31.0" fill="#000" textLength="118.26" lengthAdjust="spacingAndGlyphs">16.01.26</text>
<text x="1577.11" y="685.56" font-size="31.0" fill="#000" textLength="336.02" lengthAdjust="spacingAndGlyphs">German Power Cal-2029</text>
<text x="2063.21" y="685.56" font-size="31.0" fill="#000" textLength="76.02" lengthAdjust="spacingAndGlyphs">82,84</text>
<text x="26.71" y="864.90" font-size="38.3" font-weight="bold" fill="#000" textLength="578.88" lengthAdjust="spacingAndGlyphs">Frontmonate Base in Euro/MWh</text>
<text x="619.64" y="864.90" font-size="38.3" fill="#000" textLength="89.90" lengthAdjust="spacingAndGlyphs">(EEX)</text>
<text x="31.06" y="903.80" font-size="30.5" font-weight="bold" fill="#808080" textLength="43.76" lengthAdjust="spacingAndGlyphs">140</text>
<text x="31.06" y="1038.80" font-size="30.5" font-weight="bold" fill="#808080" textLength="43.76" lengthAdjust="spacingAndGlyphs">120</text>
<text x="31.06" y="1173.80" font-size="30.5" font-weight="bold" fill="#808080" textLength="43.76" lengthAdjust="spacingAndGlyphs">100</text>
<text x="45.65" y="1308.80" font-size="30.5" font-weight="bold" fill="#808080" textLength="29.18" lengthAdjust="spacingAndGlyphs">80</text>
<text x="45.65" y="1443.80" font-size="30.5" font-weight="bold" fill="#808080" textLength="29.18" lengthAdjust="spacingAndGlyphs">60</text>
<text x="62.90" y="1476.00" font-size="30.5" font-weight="bold" fill="#808080" textLength="74.62" lengthAdjust="spacingAndGlyphs">27.10.</text>
<text x="198.54" y="1476.00" font-size="30.5" font-weight="bold" fill="#808080" textLength="73.14" lengthAdjust="spacingAndGlyphs">07.11.</text>
<text x="370.24" y="1476.00" font-size="30.5" font-weight="bold" fill="#808080" textLength="73.14" lengthAdjust="spacingAndGlyphs">21.11.</text>
<text x="540.70" y="1476.00" font-size="30.5" font-weight="bold" fill="#808080" textLength="74.62" lengthAdjust="spacingAndGlyphs">05.12.</text>
<text x="712.30" y="1476.00" font-size="30.5" font-weight="bold" fill="#808080" textLength="74.62" lengthAdjust="spacingAndGlyphs">19.12.</text>
<text x="871.80" y="1476.00" font-size="30.5" font-weight="bold" fill="#808080" textLength="74.62" lengthAdjust="spacingAndGlyphs">01.01.</text>
<text x="1035.64" y="1476.00" font-size="30.5" font-weight="bold" fill="#808080" textLength="72.93" lengthAdjust="spacingAndGlyphs">16.01.</text>
<text x="447.98" y="1522.20" font-size="34.0" fill="#c3000f" textLength="28.56" lengthAdjust="spacingAndGlyphs">M</text>
<text x="487.46" y="1522.20" font-size="34.0" fill="#c3000f" textLength="18.75" lengthAdjust="spacingAndGlyphs">+</text>
<text x="514.50" y="1522.20" font-size="34.0" fill="#c3000f" textLength="18.91" lengthAdjust="spacingAndGlyphs">1</text>
<text x="696.18" y="1522.20" font-size="34.0" fill="#03298a" textLength="28.56" lengthAdjust="spacingAndGlyphs">M</text>
<text x="735.66" y="1522.20" font-size="34.0" fill="#03298a" textLength="18.75" lengthAdjust="spacingAndGlyphs">+</text>
<text x="764.40" y="1522.20" font-size="34.0" fill="#03298a" textLength="18.91" lengthAdjust="spacingAndGlyphs">2</text>
<text x="944.38" y="1522.20" font-size="34.0" fill="#000000" textLength="28.56" lengthAdjust="spacingAndGlyphs">M</text>
<text x="983.86" y="1522.20" font-size="34.0" fill="#000000" textLength="18.75" lengthAdjust="spacingAndGlyphs">+</text>
<text x="1013.00" y="1522.20" font-size="34.0" fill="#000000" textLength="18.91" lengthAdjust="spacingAndGlyphs">3</text>
<text x="1180.90" y="864.90" font-size="38.3" font-weight="bold" fill="#000" textLength="577.79" lengthAdjust="spacingAndGlyphs">Frontmonate Peak in Euro/MWh</text>
<text x="1772.95" y="864.90" font-size="38.3" fill="#000" textLength="89.59" lengthAdjust="spacingAndGlyphs">(EEX)</text>
<text x="1184.06" y="903.80" font-size="30.5" font-weight="bold" fill="#808080" textLength="43.76" lengthAdjust="spacingAndGlyphs">200</text>
<text x="1184.06" y="1038.80" font-size="30.5" font-weight="bold" fill="#808080" textLength="43.76" lengthAdjust="spacingAndGlyphs">160</text>
<text x="1184.06" y="1173.80" font-size="30.5" font-weight="bold" fill="#808080" textLength="43.76" lengthAdjust="spacingAndGlyphs">120</text>
<text x="1198.65" y="1308.80" font-size="30.5" font-weight="bold" fill="#808080" textLength="29.18" lengthAdjust="spacingAndGlyphs">80</text>
<text x="1198.65" y="1443.80" font-size="30.5" font-weight="bold" fill="#808080" textLength="29.18" lengthAdjust="spacingAndGlyphs">40</text>
<text x="1215.90" y="1476.00" font-size="30.5" font-weight="bold" fill="#808080" textLength="74.62" lengthAdjust="spacingAndGlyphs">27.10.</text>
<text x="1351.54" y="1476.00" font-size="30.5" font-weight="bold" fill="#808080" textLength="73.14" lengthAdjust="spacingAndGlyphs">07.11.</text>
<text x="1523.24" y="1476.00" font-size="30.5" font-weight="bold" fill="#808080" textLength="73.14" lengthAdjust="spacingAndGlyphs">21.11.</text>
<text x="1693.70" y="1476.00" font-size="30.5" font-weight="bold" fill="#808080" textLength="74.62" lengthAdjust="spacingAndGlyphs">05.12.</text>
<text x="1865.30" y="1476.00" font-size="30.5" font-weight="bold" fill="#808080" textLength="74.62" lengthAdjust="spacingAndGlyphs">19.12.</text>
<text x="2024.80" y="1476.00" font-size="30.5" font-weight="bold" fill="#808080" textLength="74.62" lengthAdjust="spacingAndGlyphs">01.01.</text>
<text x="2188.64" y="1476.00" font-size="30.5" font-weight="bold" fill="#808080" textLength="72.93" lengthAdjust="spacingAndGlyphs">16.01.</text>
<text x="1600.98" y="1522.20" font-size="34.0" fill="#c3000f" textLength="28.56" lengthAdjust="spacingAndGlyphs">M</text>
<text x="1640.46" y="1522.20" font-size="34.0" fill="#c3000f" textLength="18.75" lengthAdjust="spacingAndGlyphs">+</text>
<text x="1667.50" y="1522.20" font-size="34.0" fill="#c3000f" textLength="18.91" lengthAdjust="spacingAndGlyphs">1</text>
<text x="1849.18" y="1522.20" font-size="34.0" fill="#03298a" textLength="28.56" lengthAdjust="spacingAndGlyphs">M</text>
<text x="1888.66" y="1522.20" font-size="34.0" fill="#03298a" textLength="18.75" lengthAdjust="spacingAndGlyphs">+</text>
<text x="1917.40" y="1522.20" font-size="34.0" fill="#03298a" textLength="18.91" lengthAdjust="spacingAndGlyphs">2</text>
<text x="2097.38" y="1522.20" font-size="34.0" fill="#000000" textLength="28.56" lengthAdjust="spacingAndGlyphs">M</text>
<text x="2136.86" y="1522.20" font-size="34.0" fill="#000000" textLength="18.75" lengthAdjust="spacingAndGlyphs">+</text>
<text x="2166.00" y="1522.20" font-size="34.0" fill="#000000" textLength="18.91" lengthAdjust="spacingAndGlyphs">3</text>
<text x="26.71" y="1681.70" font-size="38.3" font-weight="bold" fill="#000" textLength="590.58" lengthAdjust="spacingAndGlyphs">Frontquartale Base in Euro/MWh</text>
<text x="630.54" y="1681.70" font-size="38.3" fill="#000" textLength="89.70" lengthAdjust="spacingAndGlyphs">(EEX)</text>
<text x="31.06" y="1720.80" font-size="30.5" font-weight="bold" fill="#808080" textLength="43.76" lengthAdjust="spacingAndGlyphs">120</text>
<text x="30.20" y="1855.80" font-size="30.5" font-weight="bold" fill="#808080" textLength="43.76" lengthAdjust="spacingAndGlyphs">105</text>
<text x="45.65" y="1990.80" font-size="30.5" font-weight="bold" fill="#808080" textLength="29.18" lengthAdjust="spacingAndGlyphs">90</text>
<text x="44.79" y="2125.80" font-size="30.5" font-weight="bold" fill="#808080" textLength="29.18" lengthAdjust="spacingAndGlyphs">75</text>
<text x="45.65" y="2260.80" font-size="30.5" font-weight="bold" fill="#808080" textLength="29.18" lengthAdjust="spacingAndGlyphs">60</text>
<text x="89.30" y="2291.70" font-size="30.5" font-weight="bold" fill="#808080" textLength="43.30" lengthAdjust="spacingAndGlyphs">Feb</text>
<text x="166.79" y="2291.70" font-size="30.5" font-weight="bold" fill="#808080" textLength="44.92" lengthAdjust="spacingAndGlyphs">Mrz</text>
<text x="255.90" y="2288.70" font-size="30.5" font-weight="bold" fill="#808080" textLength="42.10" lengthAdjust="spacingAndGlyphs">Apr</text>
<text x="338.16" y="2291.70" font-size="30.5" font-weight="bold" fill="#808080" textLength="46.80" lengthAdjust="spacingAndGlyphs">Mai</text>
<text x="426.80" y="2291.70" font-size="30.5" font-weight="bold" fill="#808080" textLength="45.36" lengthAdjust="spacingAndGlyphs">Jun</text>
<text x="515.15" y="2291.70" font-size="30.5" font-weight="bold" fill="#808080" textLength="37.76" lengthAdjust="spacingAndGlyphs">Jul</text>
<text x="597.70" y="2288.70" font-size="30.5" font-weight="bold" fill="#808080" textLength="46.27" lengthAdjust="spacingAndGlyphs">Aug</text>
<text x="688.20" y="2288.70" font-size="30.5" font-weight="bold" fill="#808080" textLength="44.50" lengthAdjust="spacingAndGlyphs">Sep</text>
<text x="770.27" y="2291.70" font-size="30.5" font-weight="bold" fill="#808080" textLength="41.95" lengthAdjust="spacingAndGlyphs">Okt</text>
<text x="856.05" y="2291.70" font-size="30.5" font-weight="bold" fill="#808080" textLength="44.52" lengthAdjust="spacingAndGlyphs">Nov</text>
<text x="944.25" y="2291.70" font-size="30.5" font-weight="bold" fill="#808080" textLength="43.30" lengthAdjust="spacingAndGlyphs">Dez</text>
<text x="1009.00" y="2291.70" font-size="30.5" font-weight="bold" fill="#808080" textLength="42.52" lengthAdjust="spacingAndGlyphs">Jan</text>
<text x="447.63" y="2338.90" font-size="34.0" fill="#c3000f" textLength="25.67" lengthAdjust="spacingAndGlyphs">Q</text>
<text x="483.96" y="2338.90" font-size="34.0" fill="#c3000f" textLength="18.75" lengthAdjust="spacingAndGlyphs">+</text>
<text x="510.50" y="2338.90" font-size="34.0" fill="#c3000f" textLength="18.91" lengthAdjust="spacingAndGlyphs">1</text>
<text x="695.83" y="2338.90" font-size="34.0" fill="#03298a" textLength="25.67" lengthAdjust="spacingAndGlyphs">Q</text>
<text x="732.16" y="2338.90" font-size="34.0" fill="#03298a" textLength="18.75" lengthAdjust="spacingAndGlyphs">+</text>
<text x="760.40" y="2338.90" font-size="34.0" fill="#03298a" textLength="18.91" lengthAdjust="spacingAndGlyphs">2</text>
<text x="944.03" y="2338.90" font-size="34.0" fill="#000000" textLength="25.67" lengthAdjust="spacingAndGlyphs">Q</text>
<text x="980.36" y="2338.90" font-size="34.0" fill="#000000" textLength="18.75" lengthAdjust="spacingAndGlyphs">+</text>
<text x="1009.00" y="2338.90" font-size="34.0" fill="#000000" textLength="18.91" lengthAdjust="spacingAndGlyphs">3</text>
<text x="1180.91" y="1681.70" font-size="38.3" font-weight="bold" fill="#000" textLength="589.28" lengthAdjust="spacingAndGlyphs">Frontquartale Peak in Euro/MWh</text>
<text x="1783.65" y="1681.70" font-size="38.3" fill="#000" textLength="89.59" lengthAdjust="spacingAndGlyphs">(EEX)</text>
<text x="1184.06" y="1720.80" font-size="30.5" font-weight="bold" fill="#808080" textLength="43.76" lengthAdjust="spacingAndGlyphs">200</text>
<text x="1184.06" y="1855.80" font-size="30.5" font-weight="bold" fill="#808080" textLength="43.76" lengthAdjust="spacingAndGlyphs">160</text>
<text x="1184.06" y="1990.80" font-size="30.5" font-weight="bold" fill="#808080" textLength="43.76" lengthAdjust="spacingAndGlyphs">120</text>
<text x="1198.65" y="2125.80" font-size="30.5" font-weight="bold" fill="#808080" textLength="29.18" lengthAdjust="spacingAndGlyphs">80</text>
<text x="1198.65" y="2260.80" font-size="30.5" font-weight="bold" fill="#808080" textLength="29.18" lengthAdjust="spacingAndGlyphs">40</text>
<text x="1231.20" y="2291.70" font-size="30.5" font-weight="bold" fill="#808080" textLength="43.30" lengthAdjust="spacingAndGlyphs">Feb</text>
<text x="1304.49" y="2291.70" font-size="30.5" font-weight="bold" fill="#808080" textLength="44.92" lengthAdjust="spacingAndGlyphs">Mrz</text>
<text x="1395.10" y="2288.70" font-size="30.5" font-weight="bold" fill="#808080" textLength="42.10" lengthAdjust="spacingAndGlyphs">Apr</text>
<text x="1478.26" y="2291.70" font-size="30.5" font-weight="bold" fill="#808080" textLength="46.80" lengthAdjust="spacingAndGlyphs">Mai</text>
<text x="1568.70" y="2291.70" font-size="30.5" font-weight="bold" fill="#808080" textLength="45.36" lengthAdjust="spacingAndGlyphs">Jun</text>
<text x="1658.45" y="2291.70" font-size="30.5" font-weight="bold" fill="#808080" textLength="37.76" lengthAdjust="spacingAndGlyphs">Jul</text>
<text x="1742.80" y="2288.70" font-size="30.5" font-weight="bold" fill="#808080" textLength="46.27" lengthAdjust="spacingAndGlyphs">Aug</text>
<text x="1834.80" y="2288.70" font-size="30.5" font-weight="bold" fill="#808080" textLength="44.50" lengthAdjust="spacingAndGlyphs">Sep</text>
<text x="1918.17" y="2291.70" font-size="30.5" font-weight="bold" fill="#808080" textLength="41.95" lengthAdjust="spacingAndGlyphs">Okt</text>
<text x="2005.25" y="2291.70" font-size="30.5" font-weight="bold" fill="#808080" textLength="44.52" lengthAdjust="spacingAndGlyphs">Nov</text>
<text x="2094.85" y="2291.70" font-size="30.5" font-weight="bold" fill="#808080" textLength="43.30" lengthAdjust="spacingAndGlyphs">Dez</text>
<text x="2161.20" y="2291.70" font-size="30.5" font-weight="bold" fill="#808080" textLength="42.52" lengthAdjust="spacingAndGlyphs">Jan</text>
<text x="1600.63" y="2338.90" font-size="34.0" fill="#c3000f" textLength="25.67" lengthAdjust="spacingAndGlyphs">Q</text>
<text x="1636.96" y="2338.90" font-size="34.0" fill="#c3000f" textLength="18.75" lengthAdjust="spacingAndGlyphs">+</text>
<text x="1663.50" y="2338.90" font-size="34.0" fill="#c3000f" textLength="18.91" lengthAdjust="spacingAndGlyphs">1</text>
<text x="1848.83" y="2338.90" font-size="34.0" fill="#03298a" textLength="25.67" lengthAdjust="spacingAndGlyphs">Q</text>
<text x="1885.16" y="2338.90" font-size="34.0" fill="#03298a" textLength="18.75" lengthAdjust="spacingAndGlyphs">+</text>
<text x="1913.40" y="2338.90" font-size="34.0" fill="#03298a" textLength="18.91" lengthAdjust="spacingAndGlyphs">2</text>
<text x="2097.03" y="2338.90" font-size="34.0" fill="#000000" textLength="25.67" lengthAdjust="spacingAndGlyphs">Q</text>
<text x="2133.36" y="2338.90" font-size="34.0" fill="#000000" textLength="18.75" lengthAdjust="spacingAndGlyphs">+</text>
<text x="2162.00" y="2338.90" font-size="34.0" fill="#000000" textLength="18.91" lengthAdjust="spacingAndGlyphs">3</text>
<text x="26.71" y="2498.70" font-size="38.3" font-weight="bold" fill="#000" textLength="533.17" lengthAdjust="spacingAndGlyphs">Frontjahre Base in Euro/MWh</text>
<text x="576.54" y="2498.70" font-size="38.3" fill="#000" textLength="90.01" lengthAdjust="spacingAndGlyphs">(EEX)</text>
<text x="45.65" y="2537.80" font-size="30.5" font-weight="bold" fill="#808080" textLength="29.18" lengthAdjust="spacingAndGlyphs">96</text>
<text x="44.79" y="2672.80" font-size="30.5" font-weight="bold" fill="#808080" textLength="29.18" lengthAdjust="spacingAndGlyphs">88</text>
<text x="45.65" y="2807.80" font-size="30.5" font-weight="bold" fill="#808080" textLength="29.18" lengthAdjust="spacingAndGlyphs">80</text>
<text x="45.65" y="2942.80" font-size="30.5" font-weight="bold" fill="#808080" textLength="29.18" lengthAdjust="spacingAndGlyphs">72</text>
<text x="44.79" y="3077.80" font-size="30.5" font-weight="bold" fill="#808080" textLength="29.18" lengthAdjust="spacingAndGlyphs">64</text>
<text x="89.30" y="3108.70" font-size="30.5" font-weight="bold" fill="#808080" textLength="43.30" lengthAdjust="spacingAndGlyphs">Feb</text>
<text x="166.79" y="3108.70" font-size="30.5" font-weight="bold" fill="#808080" textLength="44.92" lengthAdjust="spacingAndGlyphs">Mrz</text>
<text x="255.90" y="3105.70" font-size="30.5" font-weight="bold" fill="#808080" textLength="42.10" lengthAdjust="spacingAndGlyphs">Apr</text>
<text x="338.16" y="3108.70" font-size="30.5" font-weight="bold" fill="#808080" textLength="46.80" lengthAdjust="spacingAndGlyphs">Mai</text>
<text x="426.80" y="3108.70" font-size="30.5" font-weight="bold" fill="#808080" textLength="45.36" lengthAdjust="spacingAndGlyphs">Jun</text>
<text x="515.15" y="3108.70" font-size="30.5" font-weight="bold" fill="#808080" textLength="37.76" lengthAdjust="spacingAndGlyphs">Jul</text>
<text x="597.70" y="3105.70" font-size="30.5" font-weight="bold" fill="#808080" textLength="46.27" lengthAdjust="spacingAndGlyphs">Aug</text>
<text x="688.20" y="3105.70" font-size="30.5" font-weight="bold" fill="#808080" textLength="44.50" lengthAdjust="spacingAndGlyphs">Sep</text>
<text x="770.27" y="3108.70" font-size="30.5" font-weight="bold" fill="#808080" textLength="41.95" lengthAdjust="spacingAndGlyphs">Okt</text>
<text x="856.05" y="3108.70" font-size="30.5" font-weight="bold" fill="#808080" textLength="44.52" lengthAdjust="spacingAndGlyphs">Nov</text>
<text x="944.25" y="3108.70" font-size="30.5" font-weight="bold" fill="#808080" textLength="43.30" lengthAdjust="spacingAndGlyphs">Dez</text>
<text x="1009.00" y="3108.70" font-size="30.5" font-weight="bold" fill="#808080" textLength="42.52" lengthAdjust="spacingAndGlyphs">Jan</text>
<text x="447.40" y="3155.70" font-size="34.0" fill="#c3000f" textLength="22.27" lengthAdjust="spacingAndGlyphs">Y</text>
<text x="480.06" y="3155.70" font-size="34.0" fill="#c3000f" textLength="18.75" lengthAdjust="spacingAndGlyphs">+</text>
<text x="506.50" y="3155.70" font-size="34.0" fill="#c3000f" textLength="18.91" lengthAdjust="spacingAndGlyphs">1</text>
<text x="695.60" y="3155.70" font-size="34.0" fill="#03298a" textLength="22.27" lengthAdjust="spacingAndGlyphs">Y</text>
<text x="728.26" y="3155.70" font-size="34.0" fill="#03298a" textLength="18.75" lengthAdjust="spacingAndGlyphs">+</text>
<text x="756.40" y="3155.70" font-size="34.0" fill="#03298a" textLength="18.91" lengthAdjust="spacingAndGlyphs">2</text>
<text x="943.80" y="3155.70" font-size="34.0" fill="#000000" textLength="22.27" lengthAdjust="spacingAndGlyphs">Y</text>
<text x="976.46" y="3155.70" font-size="34.0" fill="#000000" textLength="18.75" lengthAdjust="spacingAndGlyphs">+</text>
<text x="1005.00" y="3155.70" font-size="34.0" fill="#000000" textLength="18.91" lengthAdjust="spacingAndGlyphs">3</text>
<text x="1180.91" y="2498.70" font-size="38.3" font-weight="bold" fill="#000" textLength="531.98" lengthAdjust="spacingAndGlyphs">Frontjahre Peak in Euro/MWh</text>
<text x="1729.75" y="2498.70" font-size="38.3" fill="#000" textLength="89.59" lengthAdjust="spacingAndGlyphs">(EEX)</text>
<text x="1183.20" y="2537.80" font-size="30.5" font-weight="bold" fill="#808080" textLength="43.76" lengthAdjust="spacingAndGlyphs">105</text>
<text x="1198.65" y="2672.80" font-size="30.5" font-weight="bold" fill="#808080" textLength="29.18" lengthAdjust="spacingAndGlyphs">97</text>
<text x="1198.65" y="2807.80" font-size="30.5" font-weight="bold" fill="#808080" textLength="29.18" lengthAdjust="spacingAndGlyphs">90</text>
<text x="1198.65" y="2942.80" font-size="30.5" font-weight="bold" fill="#808080" textLength="29.18" lengthAdjust="spacingAndGlyphs">82</text>
<text x="1197.79" y="3077.80" font-size="30.5" font-weight="bold" fill="#808080" textLength="29.18" lengthAdjust="spacingAndGlyphs">75</text>
<text x="1242.30" y="3108.70" font-size="30.5" font-weight="bold" fill="#808080" textLength="43.30" lengthAdjust="spacingAndGlyphs">Feb</text>
<text x="1319.79" y="3108.70" font-size="30.5" font-weight="bold" fill="#808080" textLength="44.92" lengthAdjust="spacingAndGlyphs">Mrz</text>
<text x="1408.90" y="3105.70" font-size="30.5" font-weight="bold" fill="#808080" textLength="42.10" lengthAdjust="spacingAndGlyphs">Apr</text>
<text x="1491.16" y="3108.70" font-size="30.5" font-weight="bold" fill="#808080" textLength="46.80" lengthAdjust="spacingAndGlyphs">Mai</text>
<text x="1579.80" y="3108.70" font-size="30.5" font-weight="bold" fill="#808080" textLength="45.36" lengthAdjust="spacingAndGlyphs">Jun</text>
<text x="1668.15" y="3108.70" font-size="30.5" font-weight="bold" fill="#808080" textLength="37.76" lengthAdjust="spacingAndGlyphs">Jul</text>
<text x="1750.70" y="3105.70" font-size="30.5" font-weight="bold" fill="#808080" textLength="46.27" lengthAdjust="spacingAndGlyphs">Aug</text>
<text x="1841.20" y="3105.70" font-size="30.5" font-weight="bold" fill="#808080" textLength="44.50" lengthAdjust="spacingAndGlyphs">Sep</text>
<text x="1923.27" y="3108.70" font-size="30.5" font-weight="bold" fill="#808080" textLength="41.95" lengthAdjust="spacingAndGlyphs">Okt</text>
<text x="2009.05" y="3108.70" font-size="30.5" font-weight="bold" fill="#808080" textLength="44.52" lengthAdjust="spacingAndGlyphs">Nov</text>
<text x="2097.25" y="3108.70" font-size="30.5" font-weight="bold" fill="#808080" textLength="43.30" lengthAdjust="spacingAndGlyphs">Dez</text>
<text x="2162.00" y="3108.70" font-size="30.5" font-weight="bold" fill="#808080" textLength="42.52" lengthAdjust="spacingAndGlyphs">Jan</text>
<text x="1600.40" y="3155.70" font-size="34.0" fill="#c3000f" textLength="22.27" lengthAdjust="spacingAndGlyphs">Y</text>
<text x="1633.06" y="3155.70" font-size="34.0" fill="#c3000f" textLength="18.75" lengthAdjust="spacingAndGlyphs">+</text>
<text x="1659.50" y="3155.70" font-size="34.0" fill="#c3000f" textLength="18.91" lengthAdjust="spacingAndGlyphs">1</text>
<text x="1848.60" y="3155.70" font-size="34.0" fill="#03298a" textLength="22.27" lengthAdjust="spacingAndGlyphs">Y</text>
<text x="1881.26" y="3155.70" font-size="34.0" fill="#03298a" textLength="18.75" lengthAdjust="spacingAndGlyphs">+</text>
<text x="1909.40" y="3155.70" font-size="34.0" fill="#03298a" textLength="18.91" lengthAdjust="spacingAndGlyphs">2</text>
<text x="2096.80" y="3155.70" font-size="34.0" fill="#000000" textLength="22.27" lengthAdjust="spacingAndGlyphs">Y</text>
<text x="2129.46" y="3155.70" font-size="34.0" fill="#000000" textLength="18.75" lengthAdjust="spacingAndGlyphs">+</text>
<text x="2158.00" y="3155.70" font-size="34.0" fill="#000000" textLength="18.91" lengthAdjust="spacingAndGlyphs">3</text>
</svg>
</body></html>
